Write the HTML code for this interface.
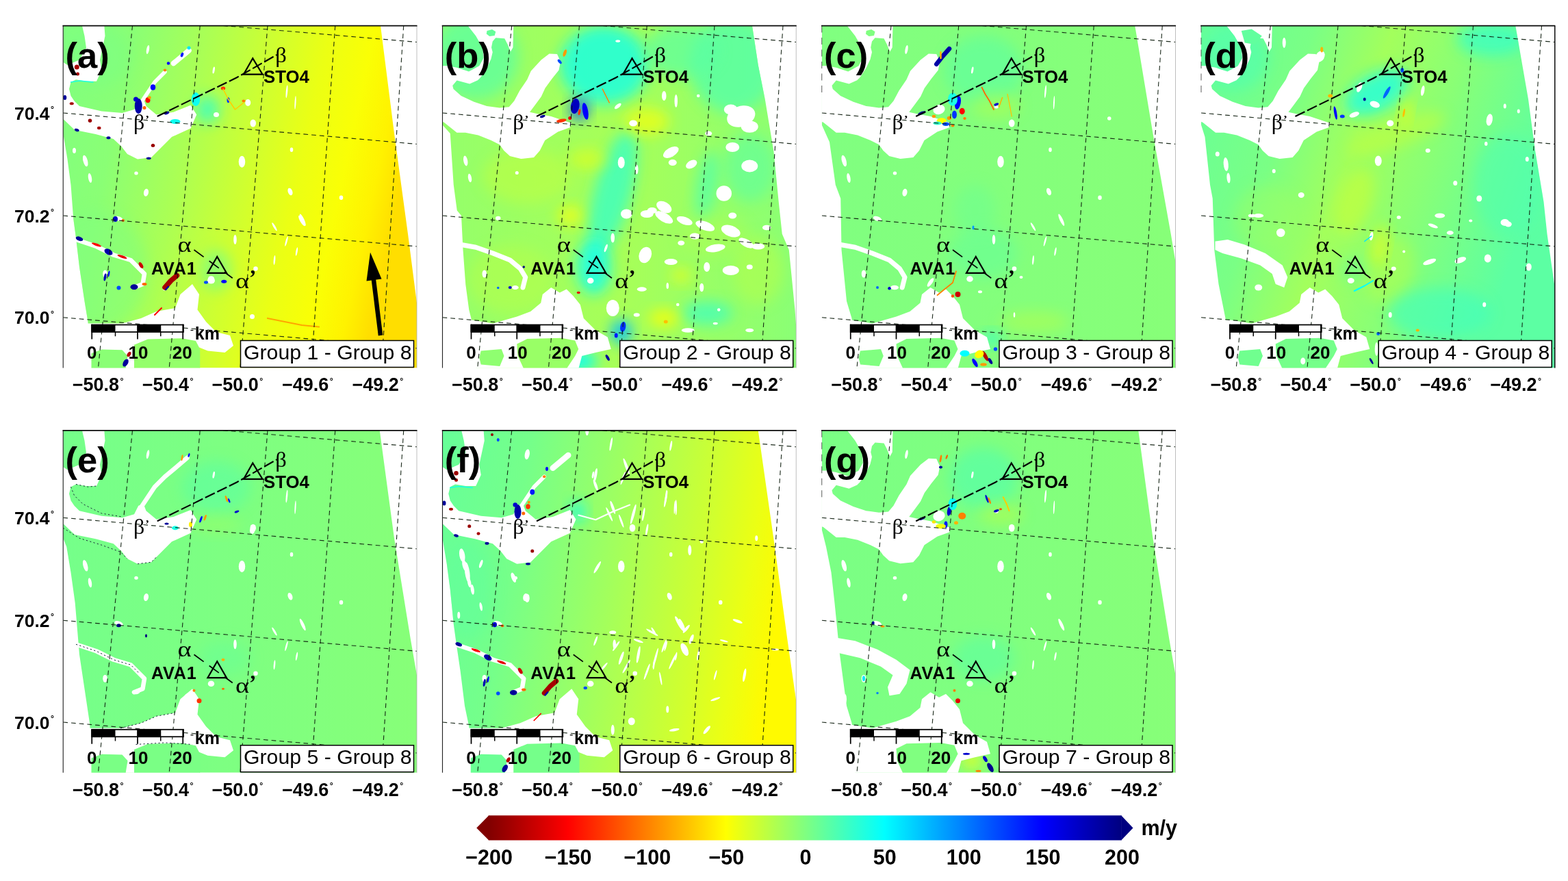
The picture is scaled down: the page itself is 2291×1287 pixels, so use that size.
<!DOCTYPE html>
<html><head><meta charset="utf-8"><title>Figure</title>
<style>
html,body{margin:0;padding:0;background:#fff;}
body{width:2291px;height:1287px;overflow:hidden;}
svg{display:block;}
.sb{font-family:"Liberation Sans",sans-serif;fill:#000;}
.sr{font-family:"Liberation Sans",sans-serif;fill:#000;}
.gr{font-family:"Liberation Serif","DejaVu Serif",serif;fill:#000;}
</style></head><body>
<svg width="2291" height="1287" viewBox="0 0 2291 1287">
<defs><filter id="blur" x="-50%" y="-50%" width="200%" height="200%"><feGaussianBlur stdDeviation="40"/></filter>
<filter id="blur2" x="-50%" y="-50%" width="200%" height="200%"><feGaussianBlur stdDeviation="14"/></filter></defs>
<rect width="2291" height="1287" fill="#fff"/>
<g transform="translate(66,20) scale(0.25)">
<defs>
<clipPath id="boxa"><rect x="105" y="70" width="2067" height="2000"/></clipPath>
<clipPath id="data"><polygon points="105,70 1960,70 2040,700 2120,1287 2172,1690 2172,2070 270,2070 250,1800 230,1680 200,1480 180,1310 165,1200 150,1000 130,850 110,730 105,700"/></clipPath>
<linearGradient id="gra" gradientUnits="userSpaceOnUse" x1="105" y1="0" x2="2200" y2="450">
<stop offset="0" stop-color="#80ff80"/>
<stop offset="0.2" stop-color="#8aff75"/>
<stop offset="0.4" stop-color="#abff54"/>
<stop offset="0.58" stop-color="#cfff30"/>
<stop offset="0.72" stop-color="#ebff14"/>
<stop offset="0.84" stop-color="#faff05"/>
<stop offset="0.93" stop-color="#fff200"/>
<stop offset="1" stop-color="#ffde00"/>
</linearGradient>
</defs>
<g clip-path="url(#boxa)">
<g clip-path="url(#data)">
<rect x="0" y="0" width="2300" height="2100" fill="url(#gra)"/>
<ellipse cx="300" cy="1500" rx="300" ry="350" transform="rotate(0 300 1500)" fill="#80ff80" opacity="0.5" filter="url(#blur)"/>
<ellipse cx="950" cy="560" rx="70" ry="80" transform="rotate(0 950 560)" fill="#26ffd9" opacity="0.7" filter="url(#blur)"/>
<ellipse cx="300" cy="250" rx="200" ry="180" transform="rotate(0 300 250)" fill="#7aff85" opacity="0.5" filter="url(#blur)"/>
<ellipse cx="1000" cy="1500" rx="90" ry="120" transform="rotate(0 1000 1500)" fill="#59ffa6" opacity="0.5" filter="url(#blur)"/>
</g>
<polygon points="215,66 345,66 350,130 335,200 320,270 330,330 300,395 240,395 180,385 150,400 140,440 150,480 170,510 200,540 330,570 450,580 520,560 545,510 575,500 590,540 650,590 750,575 850,535 885,590 850,670 740,720 680,780 620,840 540,850 480,820 445,775 399,732 295,704 172,679 100,610 100,280 130,300 200,270 240,200 230,130" fill="#fff" />
<polygon points="250,1810 450,1810 560,1780 650,1740 760,1720 790,1640 860,1580 900,1640 890,1730 940,1800 1000,1860 1080,1880 1100,1940 1050,1980 950,1970 900,1950 900,2075 100,2075 100,1790" fill="#fff" />
<polyline points="180,1320 300,1360 400,1410 500,1440 550,1490 580,1520 570,1580 520,1600" fill="none" stroke="#fff" stroke-width="26" stroke-linejoin="round" stroke-linecap="round"/>
<polyline points="560,520 640,400 700,340" fill="none" stroke="#fff" stroke-width="22" stroke-linejoin="round" stroke-linecap="round"/>
<polyline points="750,290 840,215" fill="none" stroke="#fff" stroke-width="30" stroke-linejoin="round" stroke-linecap="round"/>
<polygon points="270,1985 330,1962 450,1965 482,2000 470,2075 270,2075" fill="#8aff75" />
<polygon points="520,1935 600,1902 800,1897 880,1912 905,1960 905,2075 520,2075" fill="#94ff6b" />
<ellipse cx="235" cy="860" rx="13" ry="34" transform="rotate(-15 235 860)" fill="#fff"/>
<ellipse cx="262" cy="960" rx="10" ry="28" transform="rotate(-10 262 960)" fill="#fff"/>
<ellipse cx="590" cy="1045" rx="14" ry="22" transform="rotate(10 590 1045)" fill="#fff"/>
<ellipse cx="532" cy="932" rx="11" ry="10" transform="rotate(0 532 932)" fill="#fff"/>
<ellipse cx="1150" cy="865" rx="19" ry="34" transform="rotate(0 1150 865)" fill="#fff"/>
<ellipse cx="1440" cy="795" rx="9" ry="13" transform="rotate(0 1440 795)" fill="#fff"/>
<ellipse cx="1432" cy="1040" rx="13" ry="22" transform="rotate(-20 1432 1040)" fill="#fff"/>
<ellipse cx="1730" cy="1075" rx="11" ry="13" transform="rotate(0 1730 1075)" fill="#fff"/>
<ellipse cx="1505" cy="1205" rx="9" ry="38" transform="rotate(-25 1505 1205)" fill="#fff"/>
<ellipse cx="1412" cy="455" rx="5" ry="38" transform="rotate(5 1412 455)" fill="#fff"/>
<ellipse cx="1462" cy="520" rx="4" ry="40" transform="rotate(3 1462 520)" fill="#fff"/>
<ellipse cx="600" cy="210" rx="8" ry="26" transform="rotate(10 600 210)" fill="#fff"/>
<ellipse cx="430" cy="1198" rx="26" ry="13" transform="rotate(20 430 1198)" fill="#fff"/>
<ellipse cx="1215" cy="640" rx="17" ry="22" transform="rotate(0 1215 640)" fill="#fff"/>
<ellipse cx="1340" cy="1245" rx="6" ry="28" transform="rotate(-30 1340 1245)" fill="#fff"/>
<ellipse cx="985" cy="330" rx="6" ry="20" transform="rotate(10 985 330)" fill="#fff"/>
<ellipse cx="1410" cy="1330" rx="5" ry="30" transform="rotate(15 1410 1330)" fill="#fff"/>
<ellipse cx="1110" cy="1320" rx="9" ry="28" transform="rotate(0 1110 1320)" fill="#fff"/>
<ellipse cx="1470" cy="1390" rx="5" ry="25" transform="rotate(10 1470 1390)" fill="#fff"/>
<ellipse cx="1340" cy="1440" rx="5" ry="28" transform="rotate(5 1340 1440)" fill="#fff"/>
<ellipse cx="1230" cy="1490" rx="13" ry="13" transform="rotate(0 1230 1490)" fill="#fff"/>
<ellipse cx="350" cy="1520" rx="13" ry="22" transform="rotate(0 350 1520)" fill="#fff"/>
<ellipse cx="970" cy="1550" rx="19" ry="17" transform="rotate(0 970 1550)" fill="#fff"/>
<ellipse cx="170" cy="800" rx="10" ry="16" transform="rotate(0 170 800)" fill="#fff"/>
<ellipse cx="1000" cy="590" rx="16" ry="14" transform="rotate(0 1000 590)" fill="#fff"/>
<ellipse cx="1185" cy="520" rx="16" ry="20" transform="rotate(0 1185 520)" fill="#fff"/>
<ellipse cx="700" cy="1605" rx="14" ry="10" transform="rotate(-40 700 1605)" fill="#fff"/>
<ellipse cx="970" cy="1560" rx="22" ry="18" transform="rotate(0 970 1560)" fill="#fff"/>
<ellipse cx="1210" cy="1770" rx="14" ry="14" transform="rotate(0 1210 1770)" fill="#fff"/>
<ellipse cx="1500" cy="1210" rx="10" ry="35" transform="rotate(-30 1500 1210)" fill="#fff"/>
<ellipse cx="545" cy="540" rx="22" ry="45" transform="rotate(0 545 540)" fill="#0000a6"/>
<ellipse cx="530" cy="500" rx="14" ry="14" transform="rotate(0 530 500)" fill="#0000cc"/>
<ellipse cx="600" cy="505" rx="14" ry="16" transform="rotate(0 600 505)" fill="#ff0000"/>
<ellipse cx="580" cy="550" rx="10" ry="10" transform="rotate(0 580 550)" fill="#ff6600"/>
<ellipse cx="630" cy="430" rx="15" ry="17" transform="rotate(0 630 430)" fill="#0000ff"/>
<ellipse cx="610" cy="490" rx="9" ry="9" transform="rotate(0 610 490)" fill="#ff9900"/>
<ellipse cx="1040" cy="436" rx="13" ry="10" transform="rotate(0 1040 436)" fill="#ff3300"/>
<ellipse cx="185" cy="312" rx="14" ry="14" transform="rotate(0 185 312)" fill="#a60000"/>
<ellipse cx="190" cy="352" rx="10" ry="10" transform="rotate(0 190 352)" fill="#a60000"/>
<ellipse cx="115" cy="490" rx="10" ry="14" transform="rotate(0 115 490)" fill="#000099"/>
<ellipse cx="155" cy="525" rx="12" ry="8" transform="rotate(0 155 525)" fill="#a60000"/>
<ellipse cx="262" cy="625" rx="11" ry="11" transform="rotate(0 262 625)" fill="#990000"/>
<ellipse cx="315" cy="668" rx="11" ry="9" transform="rotate(0 315 668)" fill="#a60000"/>
<ellipse cx="370" cy="725" rx="12" ry="8" transform="rotate(0 370 725)" fill="#000099"/>
<ellipse cx="185" cy="680" rx="14" ry="8" transform="rotate(20 185 680)" fill="#000099"/>
<ellipse cx="630" cy="770" rx="11" ry="10" transform="rotate(0 630 770)" fill="#990000"/>
<ellipse cx="605" cy="845" rx="14" ry="7" transform="rotate(0 605 845)" fill="#000099"/>
<ellipse cx="710" cy="580" rx="16" ry="8" transform="rotate(-20 710 580)" fill="#000099"/>
<ellipse cx="410" cy="1200" rx="14" ry="16" transform="rotate(0 410 1200)" fill="#0000cc"/>
<ellipse cx="455" cy="1208" rx="9" ry="8" transform="rotate(0 455 1208)" fill="#ff6600"/>
<ellipse cx="720" cy="290" rx="9" ry="9" transform="rotate(0 720 290)" fill="#0000ff"/>
<ellipse cx="800" cy="240" rx="8" ry="14" transform="rotate(20 800 240)" fill="#001aff"/>
<ellipse cx="840" cy="200" rx="10" ry="10" transform="rotate(0 840 200)" fill="#00e5ff"/>
<ellipse cx="700" cy="330" rx="9" ry="8" transform="rotate(0 700 330)" fill="#ff8000"/>
<ellipse cx="880" cy="500" rx="25" ry="40" transform="rotate(0 880 500)" fill="#0dfff2"/>
<ellipse cx="760" cy="630" rx="30" ry="14" transform="rotate(0 760 630)" fill="#0dfff2"/>
<ellipse cx="1070" cy="505" rx="8" ry="16" transform="rotate(0 1070 505)" fill="#0033ff"/>
<ellipse cx="1160" cy="510" rx="10" ry="8" transform="rotate(0 1160 510)" fill="#ff8000"/>
<ellipse cx="200" cy="1315" rx="22" ry="12" transform="rotate(20 200 1315)" fill="#000099"/>
<ellipse cx="370" cy="1392" rx="26" ry="16" transform="rotate(30 370 1392)" fill="#0000a6"/>
<ellipse cx="520" cy="1597" rx="22" ry="16" transform="rotate(0 520 1597)" fill="#000099"/>
<ellipse cx="430" cy="1602" rx="12" ry="12" transform="rotate(0 430 1602)" fill="#004cff"/>
<ellipse cx="1045" cy="1565" rx="16" ry="10" transform="rotate(0 1045 1565)" fill="#0000ff"/>
<ellipse cx="940" cy="1570" rx="12" ry="9" transform="rotate(0 940 1570)" fill="#004cff"/>
<ellipse cx="470" cy="2040" rx="14" ry="24" transform="rotate(30 470 2040)" fill="#000099"/>
<ellipse cx="490" cy="1990" rx="10" ry="16" transform="rotate(30 490 1990)" fill="#b30000"/>
<ellipse cx="300" cy="1350" rx="30" ry="7" transform="rotate(20 300 1350)" fill="#ff0000"/>
<ellipse cx="450" cy="1420" rx="30" ry="7" transform="rotate(20 450 1420)" fill="#e50000"/>
<ellipse cx="560" cy="1470" rx="10" ry="20" transform="rotate(-30 560 1470)" fill="#cc0000"/>
<ellipse cx="580" cy="1580" rx="14" ry="8" transform="rotate(0 580 1580)" fill="#ff6600"/>
<ellipse cx="350" cy="1540" rx="7" ry="22" transform="rotate(10 350 1540)" fill="#0000b3"/>
<ellipse cx="372" cy="1520" rx="5" ry="18" transform="rotate(10 372 1520)" fill="#0000ff"/>
<polyline points="700,1600 735,1560 770,1530" fill="none" stroke="#a60000" stroke-width="30" stroke-linejoin="round" stroke-linecap="round"/>
<polyline points="705,1612 720,1595" fill="none" stroke="#0000a6" stroke-width="10" stroke-linejoin="round" stroke-linecap="round"/>
<polyline points="1300,1780 1400,1800 1500,1820 1600,1830" fill="none" stroke="#ffa600" stroke-width="9" stroke-linejoin="round" stroke-linecap="round"/>
<polyline points="640,1760 680,1720" fill="none" stroke="#ff0000" stroke-width="8" stroke-linejoin="round" stroke-linecap="round"/>
<polyline points="150,400 200,392 280,400" fill="none" stroke="#1affe5" stroke-width="6" stroke-linejoin="round" stroke-linecap="round"/>
<polyline points="1040,440 1070,500 1110,560 1160,520" fill="none" stroke="#ffcc00" stroke-width="6" stroke-linejoin="round" stroke-linecap="round"/>
<g stroke="#0b1a0b" stroke-width="4.5" stroke-dasharray="27 20" fill="none" opacity="0.92">
<line x1="510" y1="70" x2="310" y2="2070"/>
<line x1="905" y1="70" x2="725" y2="2070"/>
<line x1="1300" y1="70" x2="1140" y2="2070"/>
<line x1="1695" y1="70" x2="1555" y2="2070"/>
<line x1="2095" y1="70" x2="1965" y2="2070"/>
<line x1="1040" y1="70" x2="2172" y2="166"/>
<line x1="105" y1="580" x2="2172" y2="762"/>
<line x1="105" y1="1180" x2="2172" y2="1360"/>
<line x1="105" y1="1775" x2="2172" y2="1955"/>
</g>
</g>
<line x1="2172" y1="70" x2="2172" y2="2070" stroke="#a8a8a8" stroke-width="3"/>
<line x1="105" y1="70" x2="105" y2="2070" stroke="#222" stroke-width="4.5"/>
<line x1="102" y1="70" x2="2174" y2="70" stroke="#0a0a0a" stroke-width="7"/>
<text x="118" y="316" font-size="210" font-weight="bold" class="sb">(a)</text>
<polyline points="655,600 1120,373 1354,240" fill="none" stroke="#000" stroke-width="8.5" stroke-dasharray="62 16"/>
<polygon points="1213,261 1160,354 1270,354" fill="none" stroke="#000" stroke-width="9" stroke-linejoin="miter"/>
<text x="1276" y="405" font-size="103" font-weight="bold" class="sb">STO4</text>
<text x="1345" y="283" font-size="130" class="gr">β</text>
<text x="516" y="675" font-size="128" class="gr">β</text>
<text x="585" y="640" font-size="70" font-weight="bold" class="gr">’</text>
<line x1="870" y1="1380" x2="1095" y2="1545" stroke="#000" stroke-width="7" stroke-dasharray="70 40"/>
<polygon points="1005,1420 950,1515 1060,1515" fill="none" stroke="#000" stroke-width="9"/>
<text x="620" y="1522" font-size="101" font-weight="bold" class="sb" letter-spacing="3">AVA1</text>
<text transform="translate(774,1392) scale(1.3,1.05)" font-size="118" class="gr">α</text>
<text transform="translate(1112,1602) scale(1.3,1.05)" font-size="118" class="gr">α</text>
<text x="1192" y="1585" font-size="125" font-weight="bold" class="gr">’</text>
<rect x="273" y="1818" width="535" height="42" fill="#fff" stroke="#000" stroke-width="7"/>
<rect x="270" y="1818" width="140" height="42" fill="#000"/>
<rect x="540" y="1818" width="137" height="42" fill="#000"/>
<line x1="273" y1="1815" x2="273" y2="1902" stroke="#000" stroke-width="7"/>
<line x1="540" y1="1815" x2="540" y2="1902" stroke="#000" stroke-width="7"/>
<line x1="805" y1="1815" x2="805" y2="1902" stroke="#000" stroke-width="7"/>
<line x1="410" y1="1860" x2="410" y2="1885" stroke="#000" stroke-width="6"/>
<line x1="675" y1="1860" x2="675" y2="1885" stroke="#000" stroke-width="6"/>
<text x="273" y="2017" font-size="104" font-weight="bold" text-anchor="middle" class="sb">0</text>
<text x="544" y="2017" font-size="104" font-weight="bold" text-anchor="middle" class="sb">10</text>
<text x="801" y="2017" font-size="104" font-weight="bold" text-anchor="middle" class="sb">20</text>
<text x="875" y="1902" font-size="100" font-weight="bold" class="sb">km</text>
<line x1="850" y1="1850" x2="866" y2="1850" stroke="#000" stroke-width="5"/>
<rect x="1142" y="1910" width="1012" height="156" fill="#fff" stroke="#000" stroke-width="6"/>
<text x="1160" y="2020" font-size="121" class="sr">Group 1 - Group 8</text>
<text x="159" y="2205" font-size="108" font-weight="bold" class="sb">−50.8<tspan font-size="50" dy="-43" dx="6">°</tspan></text>
<text x="567" y="2205" font-size="108" font-weight="bold" class="sb">−50.4<tspan font-size="50" dy="-43" dx="6">°</tspan></text>
<text x="974" y="2205" font-size="108" font-weight="bold" class="sb">−50.0<tspan font-size="50" dy="-43" dx="6">°</tspan></text>
<text x="1384" y="2205" font-size="108" font-weight="bold" class="sb">−49.6<tspan font-size="50" dy="-43" dx="6">°</tspan></text>
<text x="1794" y="2205" font-size="108" font-weight="bold" class="sb">−49.2<tspan font-size="50" dy="-43" dx="6">°</tspan></text>
<text x="-180" y="618" font-size="106" font-weight="bold" class="sb">70.4<tspan font-size="50" dy="-43" dx="6">°</tspan></text>
<text x="-180" y="1218" font-size="106" font-weight="bold" class="sb">70.2<tspan font-size="50" dy="-43" dx="6">°</tspan></text>
<text x="-180" y="1813" font-size="106" font-weight="bold" class="sb">70.0<tspan font-size="50" dy="-43" dx="6">°</tspan></text>
<line x1="1960" y1="1880" x2="1918" y2="1540" stroke="#000" stroke-width="26"/>
<polygon points="1900,1395 1878,1562 1966,1550" fill="#000"/>
</g>
<g transform="translate(620.25,20) scale(0.25)">
<defs>
<clipPath id="boxb"><rect x="105" y="70" width="2067" height="2000"/></clipPath>
<clipPath id="datb"><polygon points="105,70 1915,70 1950,300 1990,500 2040,800 2070,1100 2090,1287 2130,1380 2150,1580 2165,1730 2172,1830 2172,2070 300,2070 280,1810 260,1730 240,1580 225,1380 215,1180 190,1150 170,1000 160,850 150,700 105,650"/></clipPath>
<linearGradient id="grb" gradientUnits="userSpaceOnUse" x1="105" y1="0" x2="2172" y2="0">
<stop offset="0" stop-color="#94ff6b"/>
<stop offset="0.5" stop-color="#a8ff57"/>
<stop offset="1" stop-color="#8aff75"/>
</linearGradient>
</defs>
<g clip-path="url(#boxb)">
<g clip-path="url(#datb)">
<rect x="0" y="0" width="2300" height="2100" fill="url(#grb)"/>
<ellipse cx="1050" cy="300" rx="260" ry="230" transform="rotate(0 1050 300)" fill="#1fffe0" opacity="0.85" filter="url(#blur)"/>
<ellipse cx="300" cy="250" rx="250" ry="250" transform="rotate(0 300 250)" fill="#61ff9e" opacity="0.8" filter="url(#blur)"/>
<ellipse cx="1100" cy="1050" rx="110" ry="380" transform="rotate(15 1100 1050)" fill="#33ffcc" opacity="0.75" filter="url(#blur)"/>
<ellipse cx="990" cy="1480" rx="100" ry="160" transform="rotate(0 990 1480)" fill="#14ffeb" opacity="0.85" filter="url(#blur)"/>
<ellipse cx="1800" cy="300" rx="250" ry="280" transform="rotate(0 1800 300)" fill="#57ffa8" opacity="0.8" filter="url(#blur)"/>
<ellipse cx="1500" cy="220" rx="220" ry="150" transform="rotate(0 1500 220)" fill="#5cffa3" opacity="0.7" filter="url(#blur)"/>
<ellipse cx="1150" cy="1860" rx="60" ry="70" transform="rotate(0 1150 1860)" fill="#00bfff" opacity="0.9" filter="url(#blur)"/>
<ellipse cx="900" cy="2030" rx="110" ry="60" transform="rotate(0 900 2030)" fill="#00ffff" opacity="0.85" filter="url(#blur)"/>
<ellipse cx="1650" cy="1750" rx="150" ry="70" transform="rotate(0 1650 1750)" fill="#38ffc7" opacity="0.7" filter="url(#blur)"/>
<ellipse cx="1300" cy="630" rx="130" ry="80" transform="rotate(0 1300 630)" fill="#ebff14" opacity="0.8" filter="url(#blur)"/>
<ellipse cx="950" cy="850" rx="110" ry="60" transform="rotate(0 950 850)" fill="#dbff24" opacity="0.7" filter="url(#blur)"/>
<ellipse cx="850" cy="1180" rx="70" ry="55" transform="rotate(0 850 1180)" fill="#f5ff0a" opacity="0.8" filter="url(#blur)"/>
<ellipse cx="600" cy="950" rx="260" ry="160" transform="rotate(0 600 950)" fill="#bdff42" opacity="0.6" filter="url(#blur)"/>
<ellipse cx="1400" cy="1780" rx="90" ry="50" transform="rotate(0 1400 1780)" fill="#ffff00" opacity="0.8" filter="url(#blur)"/>
<ellipse cx="1500" cy="1530" rx="60" ry="45" transform="rotate(0 1500 1530)" fill="#ebff14" opacity="0.7" filter="url(#blur)"/>
<ellipse cx="1950" cy="1500" rx="150" ry="200" transform="rotate(0 1950 1500)" fill="#b3ff4c" opacity="0.6" filter="url(#blur)"/>
<ellipse cx="1700" cy="1300" rx="200" ry="120" transform="rotate(0 1700 1300)" fill="#adff52" opacity="0.5" filter="url(#blur)"/>
<ellipse cx="500" cy="1550" rx="250" ry="200" transform="rotate(0 500 1550)" fill="#b8ff47" opacity="0.5" filter="url(#blur)"/>
<ellipse cx="1900" cy="900" rx="150" ry="200" transform="rotate(0 1900 900)" fill="#5cffa3" opacity="0.6" filter="url(#blur)"/>
<ellipse cx="1650" cy="1000" rx="60" ry="200" transform="rotate(10 1650 1000)" fill="#40ffbf" opacity="0.6" filter="url(#blur)"/>
<ellipse cx="905" cy="560" rx="50" ry="60" transform="rotate(0 905 560)" fill="#004cff" opacity="0.9" filter="url(#blur)"/>
</g>
<polygon points="250,66 520,66 517,197 503,222 486,180 468,145 416,141 398,162 391,197 398,225 388,267 363,319 328,372 311,389 264,410 189,390 164,420 169,440 214,480 289,515 364,540 439,550 494,545 524,510 556,450 600,385 622,335 682,270 729,234 775,236 795,280 785,330 745,380 705,435 682,485 645,535 615,575 660,585 740,600 800,620 860,640 850,665 780,690 704,740 674,800 639,840 564,848 499,832 464,800 439,765 389,740 314,710 239,695 189,695 114,635 100,630 100,305 136,305 189,315 259,338 320,305 345,260 340,200 300,130" fill="#fff" />
<polygon points="280,1790 400,1810 540,1770 620,1740 680,1690 690,1640 740,1600 790,1630 830,1610 870,1650 910,1700 930,1780 1000,1850 1070,1890 1090,1960 1000,1980 920,2000 900,2075 100,2075 100,1790" fill="#fff" />
<polyline points="215,1350 300,1365 400,1400 500,1440 560,1490 590,1540 575,1600" fill="none" stroke="#fff" stroke-width="28" stroke-linejoin="round" stroke-linecap="round"/>
<polygon points="330,1970 450,1960 465,2000 440,2060 330,2050 320,2010" fill="#8fff70" />
<polygon points="540,1930 600,1900 800,1895 880,1910 900,1960 880,2000 830,2075 580,2075 545,2000" fill="#99ff66" />
<polygon points="365,100 395,92 416,105 410,128 380,132 362,118" fill="#66ff99" />
<ellipse cx="240" cy="860" rx="12" ry="30" transform="rotate(-10 240 860)" fill="#fff"/>
<ellipse cx="265" cy="960" rx="10" ry="25" transform="rotate(-10 265 960)" fill="#fff"/>
<ellipse cx="540" cy="930" rx="10" ry="10" transform="rotate(0 540 930)" fill="#fff"/>
<ellipse cx="430" cy="1195" rx="15" ry="12" transform="rotate(0 430 1195)" fill="#fff"/>
<ellipse cx="1850" cy="600" rx="85" ry="60" transform="rotate(-20 1850 600)" fill="#fff"/>
<ellipse cx="1790" cy="560" rx="40" ry="30" transform="rotate(0 1790 560)" fill="#fff"/>
<ellipse cx="1900" cy="660" rx="50" ry="35" transform="rotate(0 1900 660)" fill="#fff"/>
<ellipse cx="1800" cy="780" rx="40" ry="28" transform="rotate(0 1800 780)" fill="#fff"/>
<ellipse cx="1440" cy="810" rx="50" ry="26" transform="rotate(-30 1440 810)" fill="#fff"/>
<ellipse cx="1150" cy="870" rx="20" ry="34" transform="rotate(0 1150 870)" fill="#fff"/>
<ellipse cx="1560" cy="880" rx="35" ry="22" transform="rotate(-30 1560 880)" fill="#fff"/>
<ellipse cx="1900" cy="890" rx="48" ry="36" transform="rotate(0 1900 890)" fill="#fff"/>
<ellipse cx="1450" cy="870" rx="24" ry="18" transform="rotate(0 1450 870)" fill="#fff"/>
<ellipse cx="1750" cy="1050" rx="45" ry="45" transform="rotate(0 1750 1050)" fill="#fff"/>
<ellipse cx="1400" cy="1130" rx="48" ry="30" transform="rotate(30 1400 1130)" fill="#fff"/>
<ellipse cx="1240" cy="910" rx="9" ry="28" transform="rotate(0 1240 910)" fill="#fff"/>
<ellipse cx="1300" cy="1170" rx="38" ry="22" transform="rotate(0 1300 1170)" fill="#fff"/>
<ellipse cx="1800" cy="1180" rx="24" ry="18" transform="rotate(0 1800 1180)" fill="#fff"/>
<ellipse cx="1220" cy="640" rx="24" ry="18" transform="rotate(0 1220 640)" fill="#fff"/>
<ellipse cx="1400" cy="480" rx="13" ry="28" transform="rotate(0 1400 480)" fill="#fff"/>
<ellipse cx="1470" cy="510" rx="9" ry="38" transform="rotate(0 1470 510)" fill="#fff"/>
<ellipse cx="1130" cy="540" rx="24" ry="10" transform="rotate(-40 1130 540)" fill="#fff"/>
<ellipse cx="1600" cy="480" rx="9" ry="9" transform="rotate(0 1600 480)" fill="#fff"/>
<ellipse cx="1130" cy="160" rx="14" ry="7" transform="rotate(0 1130 160)" fill="#fff"/>
<ellipse cx="1660" cy="700" rx="20" ry="14" transform="rotate(0 1660 700)" fill="#fff"/>
<ellipse cx="1180" cy="1170" rx="33" ry="28" transform="rotate(0 1180 1170)" fill="#fff"/>
<ellipse cx="1330" cy="1150" rx="28" ry="18" transform="rotate(0 1330 1150)" fill="#fff"/>
<ellipse cx="1400" cy="1190" rx="58" ry="26" transform="rotate(30 1400 1190)" fill="#fff"/>
<ellipse cx="1520" cy="1210" rx="48" ry="22" transform="rotate(20 1520 1210)" fill="#fff"/>
<ellipse cx="1640" cy="1240" rx="58" ry="26" transform="rotate(20 1640 1240)" fill="#fff"/>
<ellipse cx="1790" cy="1270" rx="58" ry="32" transform="rotate(20 1790 1270)" fill="#fff"/>
<ellipse cx="1880" cy="1340" rx="48" ry="22" transform="rotate(30 1880 1340)" fill="#fff"/>
<ellipse cx="1700" cy="1370" rx="58" ry="22" transform="rotate(-10 1700 1370)" fill="#fff"/>
<ellipse cx="1950" cy="1360" rx="38" ry="18" transform="rotate(0 1950 1360)" fill="#fff"/>
<ellipse cx="1290" cy="1410" rx="36" ry="48" transform="rotate(20 1290 1410)" fill="#fff"/>
<ellipse cx="1440" cy="1450" rx="38" ry="18" transform="rotate(0 1440 1450)" fill="#fff"/>
<ellipse cx="1790" cy="1500" rx="48" ry="28" transform="rotate(0 1790 1500)" fill="#fff"/>
<ellipse cx="1900" cy="1480" rx="18" ry="14" transform="rotate(0 1900 1480)" fill="#fff"/>
<ellipse cx="1650" cy="1480" rx="18" ry="28" transform="rotate(0 1650 1480)" fill="#fff"/>
<ellipse cx="1100" cy="1310" rx="11" ry="28" transform="rotate(0 1100 1310)" fill="#fff"/>
<ellipse cx="1060" cy="1370" rx="7" ry="24" transform="rotate(20 1060 1370)" fill="#fff"/>
<ellipse cx="1270" cy="1610" rx="28" ry="13" transform="rotate(0 1270 1610)" fill="#fff"/>
<ellipse cx="1420" cy="1590" rx="7" ry="18" transform="rotate(0 1420 1590)" fill="#fff"/>
<ellipse cx="1100" cy="1720" rx="38" ry="48" transform="rotate(0 1100 1720)" fill="#fff"/>
<ellipse cx="1240" cy="1760" rx="18" ry="11" transform="rotate(0 1240 1760)" fill="#fff"/>
<ellipse cx="1540" cy="1850" rx="38" ry="13" transform="rotate(0 1540 1850)" fill="#fff"/>
<ellipse cx="1480" cy="1700" rx="9" ry="9" transform="rotate(0 1480 1700)" fill="#fff"/>
<ellipse cx="1720" cy="1730" rx="9" ry="9" transform="rotate(0 1720 1730)" fill="#fff"/>
<ellipse cx="1900" cy="1850" rx="24" ry="11" transform="rotate(0 1900 1850)" fill="#fff"/>
<ellipse cx="1700" cy="1810" rx="14" ry="7" transform="rotate(0 1700 1810)" fill="#fff"/>
<ellipse cx="970" cy="1560" rx="19" ry="17" transform="rotate(0 970 1560)" fill="#fff"/>
<ellipse cx="350" cy="1520" rx="13" ry="22" transform="rotate(0 350 1520)" fill="#fff"/>
<ellipse cx="530" cy="1600" rx="20" ry="12" transform="rotate(0 530 1600)" fill="#fff"/>
<ellipse cx="1580" cy="1300" rx="30" ry="18" transform="rotate(0 1580 1300)" fill="#fff"/>
<ellipse cx="1500" cy="1340" rx="20" ry="14" transform="rotate(0 1500 1340)" fill="#fff"/>
<ellipse cx="2000" cy="1250" rx="25" ry="15" transform="rotate(0 2000 1250)" fill="#fff"/>
<ellipse cx="1620" cy="1600" rx="12" ry="25" transform="rotate(0 1620 1600)" fill="#fff"/>
<ellipse cx="880" cy="540" rx="25" ry="45" transform="rotate(10 880 540)" fill="#0000bf"/>
<ellipse cx="940" cy="570" rx="16" ry="50" transform="rotate(-10 940 570)" fill="#0000ff"/>
<ellipse cx="800" cy="625" rx="30" ry="10" transform="rotate(-10 800 625)" fill="#ff3300"/>
<ellipse cx="850" cy="610" rx="10" ry="10" transform="rotate(0 850 610)" fill="#e50000"/>
<ellipse cx="905" cy="575" rx="7" ry="18" transform="rotate(10 905 575)" fill="#ff3300"/>
<ellipse cx="690" cy="600" rx="16" ry="7" transform="rotate(-20 690 600)" fill="#000099"/>
<ellipse cx="820" cy="230" rx="9" ry="22" transform="rotate(20 820 230)" fill="#ff9900"/>
<ellipse cx="790" cy="280" rx="8" ry="16" transform="rotate(-40 790 280)" fill="#004cff"/>
<ellipse cx="1160" cy="1830" rx="16" ry="30" transform="rotate(10 1160 1830)" fill="#0033ff"/>
<ellipse cx="1120" cy="1880" rx="10" ry="14" transform="rotate(0 1120 1880)" fill="#001aff"/>
<ellipse cx="500" cy="1600" rx="10" ry="8" transform="rotate(0 500 1600)" fill="#0000cc"/>
<ellipse cx="430" cy="1602" rx="7" ry="7" transform="rotate(0 430 1602)" fill="#0066ff"/>
<ellipse cx="1070" cy="2010" rx="8" ry="20" transform="rotate(-30 1070 2010)" fill="#000099"/>
<ellipse cx="1410" cy="1800" rx="12" ry="10" transform="rotate(0 1410 1800)" fill="#ffbf00"/>
<ellipse cx="900" cy="1630" rx="10" ry="7" transform="rotate(0 900 1630)" fill="#e50000"/>
<ellipse cx="580" cy="1480" rx="7" ry="7" transform="rotate(0 580 1480)" fill="#000080"/>
<polyline points="1040,440 1060,480 1080,520" fill="none" stroke="#ff8000" stroke-width="6" stroke-linejoin="round" stroke-linecap="round"/>
<g stroke="#0b1a0b" stroke-width="4.5" stroke-dasharray="27 20" fill="none" opacity="0.92">
<line x1="510" y1="70" x2="310" y2="2070"/>
<line x1="905" y1="70" x2="725" y2="2070"/>
<line x1="1300" y1="70" x2="1140" y2="2070"/>
<line x1="1695" y1="70" x2="1555" y2="2070"/>
<line x1="2095" y1="70" x2="1965" y2="2070"/>
<line x1="1040" y1="70" x2="2172" y2="166"/>
<line x1="105" y1="580" x2="2172" y2="762"/>
<line x1="105" y1="1180" x2="2172" y2="1360"/>
<line x1="105" y1="1775" x2="2172" y2="1955"/>
</g>
</g>
<line x1="2172" y1="70" x2="2172" y2="2070" stroke="#a8a8a8" stroke-width="3"/>
<line x1="105" y1="70" x2="105" y2="2070" stroke="#222" stroke-width="4.5"/>
<line x1="102" y1="70" x2="2174" y2="70" stroke="#0a0a0a" stroke-width="7"/>
<text x="118" y="316" font-size="210" font-weight="bold" class="sb">(b)</text>
<polyline points="655,600 1120,373 1354,240" fill="none" stroke="#000" stroke-width="8.5" stroke-dasharray="62 16"/>
<polygon points="1213,261 1160,354 1270,354" fill="none" stroke="#000" stroke-width="9" stroke-linejoin="miter"/>
<text x="1276" y="405" font-size="103" font-weight="bold" class="sb">STO4</text>
<text x="1345" y="283" font-size="130" class="gr">β</text>
<text x="516" y="675" font-size="128" class="gr">β</text>
<text x="585" y="640" font-size="70" font-weight="bold" class="gr">’</text>
<line x1="870" y1="1380" x2="1095" y2="1545" stroke="#000" stroke-width="7" stroke-dasharray="70 40"/>
<polygon points="1005,1420 950,1515 1060,1515" fill="none" stroke="#000" stroke-width="9"/>
<text x="620" y="1522" font-size="101" font-weight="bold" class="sb" letter-spacing="3">AVA1</text>
<text transform="translate(774,1392) scale(1.3,1.05)" font-size="118" class="gr">α</text>
<text transform="translate(1112,1602) scale(1.3,1.05)" font-size="118" class="gr">α</text>
<text x="1192" y="1585" font-size="125" font-weight="bold" class="gr">’</text>
<rect x="273" y="1818" width="535" height="42" fill="#fff" stroke="#000" stroke-width="7"/>
<rect x="270" y="1818" width="140" height="42" fill="#000"/>
<rect x="540" y="1818" width="137" height="42" fill="#000"/>
<line x1="273" y1="1815" x2="273" y2="1902" stroke="#000" stroke-width="7"/>
<line x1="540" y1="1815" x2="540" y2="1902" stroke="#000" stroke-width="7"/>
<line x1="805" y1="1815" x2="805" y2="1902" stroke="#000" stroke-width="7"/>
<line x1="410" y1="1860" x2="410" y2="1885" stroke="#000" stroke-width="6"/>
<line x1="675" y1="1860" x2="675" y2="1885" stroke="#000" stroke-width="6"/>
<text x="273" y="2017" font-size="104" font-weight="bold" text-anchor="middle" class="sb">0</text>
<text x="544" y="2017" font-size="104" font-weight="bold" text-anchor="middle" class="sb">10</text>
<text x="801" y="2017" font-size="104" font-weight="bold" text-anchor="middle" class="sb">20</text>
<text x="875" y="1902" font-size="100" font-weight="bold" class="sb">km</text>
<line x1="850" y1="1850" x2="866" y2="1850" stroke="#000" stroke-width="5"/>
<rect x="1142" y="1910" width="1012" height="156" fill="#fff" stroke="#000" stroke-width="6"/>
<text x="1160" y="2020" font-size="121" class="sr">Group 2 - Group 8</text>
<text x="159" y="2205" font-size="108" font-weight="bold" class="sb">−50.8<tspan font-size="50" dy="-43" dx="6">°</tspan></text>
<text x="567" y="2205" font-size="108" font-weight="bold" class="sb">−50.4<tspan font-size="50" dy="-43" dx="6">°</tspan></text>
<text x="974" y="2205" font-size="108" font-weight="bold" class="sb">−50.0<tspan font-size="50" dy="-43" dx="6">°</tspan></text>
<text x="1384" y="2205" font-size="108" font-weight="bold" class="sb">−49.6<tspan font-size="50" dy="-43" dx="6">°</tspan></text>
<text x="1794" y="2205" font-size="108" font-weight="bold" class="sb">−49.2<tspan font-size="50" dy="-43" dx="6">°</tspan></text>
</g>
<g transform="translate(1174.5,20) scale(0.25)">
<defs>
<clipPath id="boxc"><rect x="105" y="70" width="2067" height="2000"/></clipPath>
<clipPath id="datc"><polygon points="105,70 1935,70 2040,700 2145,1287 2172,1450 2172,2070 300,2070 280,1780 250,1680 220,1380 215,1080 185,1000 150,750 105,650"/></clipPath>
<linearGradient id="grc" gradientUnits="userSpaceOnUse" x1="105" y1="0" x2="2172" y2="0">
<stop offset="0" stop-color="#80ff80"/>
<stop offset="1" stop-color="#87ff78"/>
</linearGradient>
</defs>
<g clip-path="url(#boxc)">
<g clip-path="url(#datc)">
<rect x="0" y="0" width="2300" height="2100" fill="url(#grc)"/>
<ellipse cx="1050" cy="330" rx="230" ry="200" transform="rotate(0 1050 330)" fill="#61ff9e" opacity="0.7" filter="url(#blur)"/>
<ellipse cx="1120" cy="540" rx="140" ry="70" transform="rotate(0 1120 540)" fill="#b8ff47" opacity="0.5" filter="url(#blur)"/>
<ellipse cx="1050" cy="1400" rx="200" ry="150" transform="rotate(0 1050 1400)" fill="#66ff99" opacity="0.6" filter="url(#blur)"/>
<ellipse cx="1350" cy="1800" rx="200" ry="60" transform="rotate(0 1350 1800)" fill="#b8ff47" opacity="0.5" filter="url(#blur)"/>
<ellipse cx="1000" cy="1150" rx="120" ry="150" transform="rotate(0 1000 1150)" fill="#6bff94" opacity="0.5" filter="url(#blur)"/>
<ellipse cx="1100" cy="1900" rx="50" ry="40" transform="rotate(0 1100 1900)" fill="#1affe5" opacity="0.7" filter="url(#blur)"/>
</g>
<polygon points="250,66 520,66 517,197 503,222 486,180 468,145 416,141 398,162 391,197 398,225 388,267 363,319 328,372 311,389 264,410 189,390 164,420 169,440 214,480 289,515 364,540 439,550 494,545 524,510 556,450 600,385 622,335 682,270 729,234 775,236 795,280 785,330 745,380 705,435 682,485 645,535 615,575 660,585 740,600 800,620 860,640 850,665 780,690 704,740 674,800 639,840 564,848 499,832 464,800 439,765 389,740 314,710 239,695 189,695 114,635 100,630 100,305 136,305 189,315 259,338 320,305 345,260 340,200 300,130" fill="#fff" />
<polygon points="280,1790 400,1810 540,1770 620,1740 680,1690 690,1640 740,1600 790,1630 830,1610 870,1650 910,1700 930,1780 1000,1850 1070,1890 1090,1960 1000,1980 920,2000 900,2075 100,2075 100,1790" fill="#fff" />
<polyline points="215,1350 300,1365 400,1400 500,1440 560,1490 590,1540 575,1600" fill="none" stroke="#fff" stroke-width="28" stroke-linejoin="round" stroke-linecap="round"/>
<polygon points="330,1970 450,1960 465,2000 440,2060 330,2050 320,2010" fill="#80ff80" />
<polygon points="540,1930 600,1900 800,1895 880,1910 900,1960 880,2000 830,2075 580,2075 545,2000" fill="#80ff80" />
<polygon points="365,100 395,92 416,105 410,128 380,132 362,118" fill="#80ff80" />
<ellipse cx="235" cy="860" rx="13" ry="34" transform="rotate(-15 235 860)" fill="#fff"/>
<ellipse cx="262" cy="960" rx="10" ry="28" transform="rotate(-10 262 960)" fill="#fff"/>
<ellipse cx="590" cy="1045" rx="14" ry="22" transform="rotate(10 590 1045)" fill="#fff"/>
<ellipse cx="532" cy="932" rx="11" ry="10" transform="rotate(0 532 932)" fill="#fff"/>
<ellipse cx="1150" cy="865" rx="19" ry="34" transform="rotate(0 1150 865)" fill="#fff"/>
<ellipse cx="1440" cy="795" rx="9" ry="13" transform="rotate(0 1440 795)" fill="#fff"/>
<ellipse cx="1432" cy="1040" rx="13" ry="22" transform="rotate(-20 1432 1040)" fill="#fff"/>
<ellipse cx="1730" cy="1075" rx="11" ry="13" transform="rotate(0 1730 1075)" fill="#fff"/>
<ellipse cx="1505" cy="1205" rx="9" ry="38" transform="rotate(-25 1505 1205)" fill="#fff"/>
<ellipse cx="1412" cy="455" rx="5" ry="38" transform="rotate(5 1412 455)" fill="#fff"/>
<ellipse cx="1462" cy="520" rx="4" ry="40" transform="rotate(3 1462 520)" fill="#fff"/>
<ellipse cx="600" cy="210" rx="8" ry="26" transform="rotate(10 600 210)" fill="#fff"/>
<ellipse cx="430" cy="1198" rx="26" ry="13" transform="rotate(20 430 1198)" fill="#fff"/>
<ellipse cx="1215" cy="640" rx="17" ry="22" transform="rotate(0 1215 640)" fill="#fff"/>
<ellipse cx="1340" cy="1245" rx="6" ry="28" transform="rotate(-30 1340 1245)" fill="#fff"/>
<ellipse cx="985" cy="330" rx="6" ry="20" transform="rotate(10 985 330)" fill="#fff"/>
<ellipse cx="1410" cy="1330" rx="5" ry="30" transform="rotate(15 1410 1330)" fill="#fff"/>
<ellipse cx="1110" cy="1320" rx="9" ry="28" transform="rotate(0 1110 1320)" fill="#fff"/>
<ellipse cx="1470" cy="1390" rx="5" ry="25" transform="rotate(10 1470 1390)" fill="#fff"/>
<ellipse cx="1340" cy="1440" rx="5" ry="28" transform="rotate(5 1340 1440)" fill="#fff"/>
<ellipse cx="1230" cy="1490" rx="13" ry="13" transform="rotate(0 1230 1490)" fill="#fff"/>
<ellipse cx="350" cy="1520" rx="13" ry="22" transform="rotate(0 350 1520)" fill="#fff"/>
<ellipse cx="970" cy="1550" rx="19" ry="17" transform="rotate(0 970 1550)" fill="#fff"/>
<ellipse cx="1785" cy="612" rx="11" ry="11" transform="rotate(0 1785 612)" fill="#fff"/>
<ellipse cx="790" cy="560" rx="35" ry="28" transform="rotate(-20 790 560)" fill="#fff"/>
<ellipse cx="1125" cy="545" rx="12" ry="9" transform="rotate(0 1125 545)" fill="#fff"/>
<ellipse cx="530" cy="1600" rx="24" ry="13" transform="rotate(0 530 1600)" fill="#fff"/>
<ellipse cx="740" cy="1570" rx="11" ry="30" transform="rotate(35 740 1570)" fill="#fff"/>
<ellipse cx="1270" cy="1540" rx="10" ry="8" transform="rotate(0 1270 1540)" fill="#fff"/>
<ellipse cx="1030" cy="1625" rx="12" ry="8" transform="rotate(0 1030 1625)" fill="#fff"/>
<ellipse cx="1230" cy="1760" rx="5" ry="15" transform="rotate(0 1230 1760)" fill="#fff"/>
<ellipse cx="900" cy="520" rx="17" ry="40" transform="rotate(10 900 520)" fill="#0000ff"/>
<ellipse cx="880" cy="590" rx="14" ry="24" transform="rotate(0 880 590)" fill="#0033ff"/>
<ellipse cx="925" cy="570" rx="16" ry="19" transform="rotate(0 925 570)" fill="#ff0000"/>
<ellipse cx="850" cy="610" rx="13" ry="11" transform="rotate(0 850 610)" fill="#ff9900"/>
<ellipse cx="805" cy="625" rx="28" ry="16" transform="rotate(0 805 625)" fill="#ffff00"/>
<ellipse cx="870" cy="500" rx="28" ry="38" transform="rotate(0 870 500)" fill="#1affe5"/>
<ellipse cx="830" cy="645" rx="20" ry="11" transform="rotate(0 830 645)" fill="#004cff"/>
<ellipse cx="760" cy="600" rx="11" ry="9" transform="rotate(0 760 600)" fill="#ff9900"/>
<ellipse cx="940" cy="612" rx="9" ry="8" transform="rotate(0 940 612)" fill="#ff8000"/>
<ellipse cx="690" cy="580" rx="24" ry="8" transform="rotate(-20 690 580)" fill="#000099"/>
<ellipse cx="780" cy="640" rx="25" ry="10" transform="rotate(0 780 640)" fill="#33ffcc"/>
<ellipse cx="870" cy="655" rx="10" ry="7" transform="rotate(0 870 655)" fill="#ff8000"/>
<ellipse cx="1125" cy="530" rx="14" ry="7" transform="rotate(-20 1125 530)" fill="#0000cc"/>
<ellipse cx="430" cy="1600" rx="8" ry="8" transform="rotate(0 430 1600)" fill="#0066ff"/>
<ellipse cx="500" cy="1605" rx="9" ry="9" transform="rotate(0 500 1605)" fill="#0000cc"/>
<ellipse cx="900" cy="1640" rx="16" ry="16" transform="rotate(0 900 1640)" fill="#cc0000"/>
<ellipse cx="870" cy="1650" rx="9" ry="9" transform="rotate(0 870 1650)" fill="#ff4c00"/>
<ellipse cx="1060" cy="2000" rx="11" ry="34" transform="rotate(-30 1060 2000)" fill="#b30000"/>
<ellipse cx="1000" cy="2040" rx="11" ry="28" transform="rotate(-30 1000 2040)" fill="#0000ff"/>
<ellipse cx="1025" cy="1990" rx="28" ry="22" transform="rotate(-30 1025 1990)" fill="#ffff00"/>
<ellipse cx="1050" cy="2050" rx="19" ry="9" transform="rotate(0 1050 2050)" fill="#ff9900"/>
<ellipse cx="940" cy="1985" rx="28" ry="18" transform="rotate(0 940 1985)" fill="#00ffff"/>
<ellipse cx="1120" cy="1960" rx="11" ry="11" transform="rotate(0 1120 1960)" fill="#004cff"/>
<ellipse cx="1090" cy="2030" rx="9" ry="20" transform="rotate(-30 1090 2030)" fill="#000099"/>
<ellipse cx="990" cy="1250" rx="6" ry="12" transform="rotate(0 990 1250)" fill="#0099ff"/>
<polyline points="775,295 810,250 850,205" fill="none" stroke="#0000a6" stroke-width="26" stroke-linejoin="round" stroke-linecap="round"/>
<polyline points="800,225 800,260" fill="none" stroke="#ffb300" stroke-width="10" stroke-linejoin="round" stroke-linecap="round"/>
<polyline points="1040,430 1060,470 1085,510 1110,560" fill="none" stroke="#ff6600" stroke-width="7" stroke-linejoin="round" stroke-linecap="round"/>
<polyline points="1140,545 1160,490" fill="none" stroke="#ffb300" stroke-width="6" stroke-linejoin="round" stroke-linecap="round"/>
<polyline points="1190,470 1200,520 1215,600" fill="none" stroke="#ffbf00" stroke-width="5" stroke-linejoin="round" stroke-linecap="round"/>
<polyline points="780,1645 820,1612 870,1572 890,1505" fill="none" stroke="#ff8000" stroke-width="7" stroke-linejoin="round" stroke-linecap="round"/>
<g stroke="#0b1a0b" stroke-width="4.5" stroke-dasharray="27 20" fill="none" opacity="0.92">
<line x1="510" y1="70" x2="310" y2="2070"/>
<line x1="905" y1="70" x2="725" y2="2070"/>
<line x1="1300" y1="70" x2="1140" y2="2070"/>
<line x1="1695" y1="70" x2="1555" y2="2070"/>
<line x1="2095" y1="70" x2="1965" y2="2070"/>
<line x1="1040" y1="70" x2="2172" y2="166"/>
<line x1="105" y1="580" x2="2172" y2="762"/>
<line x1="105" y1="1180" x2="2172" y2="1360"/>
<line x1="105" y1="1775" x2="2172" y2="1955"/>
</g>
</g>
<line x1="2172" y1="70" x2="2172" y2="2070" stroke="#a8a8a8" stroke-width="3"/>
<line x1="105" y1="70" x2="105" y2="490" stroke="#333" stroke-width="4" stroke-dasharray="40 30" opacity="0.8"/>
<line x1="102" y1="70" x2="2174" y2="70" stroke="#0a0a0a" stroke-width="7"/>
<text x="118" y="316" font-size="210" font-weight="bold" class="sb">(c)</text>
<polyline points="655,600 1120,373 1354,240" fill="none" stroke="#000" stroke-width="8.5" stroke-dasharray="62 16"/>
<polygon points="1213,261 1160,354 1270,354" fill="none" stroke="#000" stroke-width="9" stroke-linejoin="miter"/>
<text x="1276" y="405" font-size="103" font-weight="bold" class="sb">STO4</text>
<text x="1345" y="283" font-size="130" class="gr">β</text>
<text x="516" y="675" font-size="128" class="gr">β</text>
<text x="585" y="640" font-size="70" font-weight="bold" class="gr">’</text>
<line x1="870" y1="1380" x2="1095" y2="1545" stroke="#000" stroke-width="7" stroke-dasharray="70 40"/>
<polygon points="1005,1420 950,1515 1060,1515" fill="none" stroke="#000" stroke-width="9"/>
<text x="620" y="1522" font-size="101" font-weight="bold" class="sb" letter-spacing="3">AVA1</text>
<text transform="translate(774,1392) scale(1.3,1.05)" font-size="118" class="gr">α</text>
<text transform="translate(1112,1602) scale(1.3,1.05)" font-size="118" class="gr">α</text>
<text x="1192" y="1585" font-size="125" font-weight="bold" class="gr">’</text>
<rect x="273" y="1818" width="535" height="42" fill="#fff" stroke="#000" stroke-width="7"/>
<rect x="270" y="1818" width="140" height="42" fill="#000"/>
<rect x="540" y="1818" width="137" height="42" fill="#000"/>
<line x1="273" y1="1815" x2="273" y2="1902" stroke="#000" stroke-width="7"/>
<line x1="540" y1="1815" x2="540" y2="1902" stroke="#000" stroke-width="7"/>
<line x1="805" y1="1815" x2="805" y2="1902" stroke="#000" stroke-width="7"/>
<line x1="410" y1="1860" x2="410" y2="1885" stroke="#000" stroke-width="6"/>
<line x1="675" y1="1860" x2="675" y2="1885" stroke="#000" stroke-width="6"/>
<text x="273" y="2017" font-size="104" font-weight="bold" text-anchor="middle" class="sb">0</text>
<text x="544" y="2017" font-size="104" font-weight="bold" text-anchor="middle" class="sb">10</text>
<text x="801" y="2017" font-size="104" font-weight="bold" text-anchor="middle" class="sb">20</text>
<text x="875" y="1902" font-size="100" font-weight="bold" class="sb">km</text>
<line x1="850" y1="1850" x2="866" y2="1850" stroke="#000" stroke-width="5"/>
<rect x="1142" y="1910" width="1012" height="156" fill="#fff" stroke="#000" stroke-width="6"/>
<text x="1160" y="2020" font-size="121" class="sr">Group 3 - Group 8</text>
<text x="159" y="2205" font-size="108" font-weight="bold" class="sb">−50.8<tspan font-size="50" dy="-43" dx="6">°</tspan></text>
<text x="567" y="2205" font-size="108" font-weight="bold" class="sb">−50.4<tspan font-size="50" dy="-43" dx="6">°</tspan></text>
<text x="974" y="2205" font-size="108" font-weight="bold" class="sb">−50.0<tspan font-size="50" dy="-43" dx="6">°</tspan></text>
<text x="1384" y="2205" font-size="108" font-weight="bold" class="sb">−49.6<tspan font-size="50" dy="-43" dx="6">°</tspan></text>
<text x="1794" y="2205" font-size="108" font-weight="bold" class="sb">−49.2<tspan font-size="50" dy="-43" dx="6">°</tspan></text>
</g>
<g transform="translate(1728.75,20) scale(0.25)">
<defs>
<clipPath id="boxd"><rect x="105" y="70" width="2067" height="2000"/></clipPath>
<clipPath id="datd"><polygon points="105,70 1942,70 2017,500 2057,800 2107,1100 2127,1287 2172,1600 2172,2070 290,2070 247,1780 207,1580 182,1380 172,1080 157,1000 127,720 105,650"/></clipPath>
<linearGradient id="grd" gradientUnits="userSpaceOnUse" x1="105" y1="0" x2="2172" y2="700">
<stop offset="0" stop-color="#66ff99"/>
<stop offset="0.3" stop-color="#7aff85"/>
<stop offset="0.5" stop-color="#a3ff5c"/>
<stop offset="0.7" stop-color="#8aff75"/>
<stop offset="1" stop-color="#5cffa3"/>
</linearGradient>
</defs>
<g clip-path="url(#boxd)">
<g clip-path="url(#datd)">
<rect x="0" y="0" width="2300" height="2100" fill="url(#grd)"/>
<ellipse cx="1130" cy="460" rx="200" ry="110" transform="rotate(-30 1130 460)" fill="#14ffeb" opacity="0.75" filter="url(#blur)"/>
<ellipse cx="1800" cy="150" rx="200" ry="100" transform="rotate(0 1800 150)" fill="#33ffcc" opacity="0.7" filter="url(#blur)"/>
<ellipse cx="1250" cy="700" rx="300" ry="80" transform="rotate(-20 1250 700)" fill="#bfff40" opacity="0.6" filter="url(#blur)"/>
<ellipse cx="1000" cy="1100" rx="100" ry="200" transform="rotate(20 1000 1100)" fill="#c7ff38" opacity="0.6" filter="url(#blur)"/>
<ellipse cx="300" cy="250" rx="200" ry="200" transform="rotate(0 300 250)" fill="#52ffad" opacity="0.7" filter="url(#blur)"/>
<ellipse cx="1200" cy="1500" rx="150" ry="200" transform="rotate(20 1200 1500)" fill="#b3ff4c" opacity="0.5" filter="url(#blur)"/>
<ellipse cx="1500" cy="1750" rx="300" ry="150" transform="rotate(0 1500 1750)" fill="#40ffbf" opacity="0.6" filter="url(#blur)"/>
<ellipse cx="1900" cy="1000" rx="200" ry="300" transform="rotate(0 1900 1000)" fill="#52ffad" opacity="0.6" filter="url(#blur)"/>
<ellipse cx="500" cy="1200" rx="200" ry="200" transform="rotate(0 500 1200)" fill="#99ff66" opacity="0.5" filter="url(#blur)"/>
<ellipse cx="1150" cy="1350" rx="40" ry="120" transform="rotate(10 1150 1350)" fill="#f2ff0d" opacity="0.6" filter="url(#blur)"/>
<ellipse cx="1300" cy="570" rx="30" ry="80" transform="rotate(10 1300 570)" fill="#ffff00" opacity="0.6" filter="url(#blur)"/>
<ellipse cx="1000" cy="1500" rx="80" ry="80" transform="rotate(0 1000 1500)" fill="#66ff99" opacity="0.5" filter="url(#blur)"/>
</g>
<polygon points="250,66 520,66 517,197 503,222 486,180 468,145 416,141 398,162 391,197 398,225 388,267 363,319 328,372 311,389 264,410 189,390 164,420 169,440 214,480 289,515 364,540 439,550 494,545 524,510 556,450 600,385 622,335 682,270 729,234 775,236 795,280 785,330 745,380 705,435 682,485 645,535 615,575 660,585 740,600 800,620 860,640 850,665 780,690 704,740 674,800 639,840 564,848 499,832 464,800 439,765 389,740 314,710 239,695 189,695 114,635 100,630 100,305 136,305 189,315 259,338 320,305 345,260 340,200 300,130" fill="#fff" />
<polygon points="280,1790 400,1810 540,1770 620,1740 680,1690 690,1640 740,1600 790,1630 830,1610 870,1650 910,1700 930,1780 1000,1850 1070,1890 1090,1960 1000,1980 920,2000 900,2075 100,2075 100,1790" fill="#fff" />
<polygon points="187,1330 260,1320 360,1350 480,1400 580,1470 610,1540 590,1600 540,1580 520,1520 450,1470 340,1430 230,1400 187,1380" fill="#fff" />
<polygon points="330,1970 450,1960 465,2000 440,2060 330,2050 320,2010" fill="#70ff8f" />
<polygon points="540,1930 600,1900 800,1895 880,1910 900,1960 880,2000 830,2075 580,2075 545,2000" fill="#75ff8a" />
<polygon points="340,100 400,90 460,130 420,180 360,170" fill="#61ff9e" />
<ellipse cx="200" cy="820" rx="12" ry="14" transform="rotate(0 200 820)" fill="#fff"/>
<ellipse cx="250" cy="880" rx="14" ry="40" transform="rotate(-5 250 880)" fill="#fff"/>
<ellipse cx="265" cy="960" rx="10" ry="30" transform="rotate(-5 265 960)" fill="#fff"/>
<ellipse cx="530" cy="920" rx="10" ry="12" transform="rotate(0 530 920)" fill="#fff"/>
<ellipse cx="690" cy="1060" rx="18" ry="16" transform="rotate(0 690 1060)" fill="#fff"/>
<ellipse cx="1140" cy="860" rx="20" ry="30" transform="rotate(0 1140 860)" fill="#fff"/>
<ellipse cx="1430" cy="800" rx="14" ry="12" transform="rotate(0 1430 800)" fill="#fff"/>
<ellipse cx="1590" cy="990" rx="12" ry="14" transform="rotate(0 1590 990)" fill="#fff"/>
<ellipse cx="1730" cy="1080" rx="16" ry="18" transform="rotate(0 1730 1080)" fill="#fff"/>
<ellipse cx="1790" cy="620" rx="18" ry="35" transform="rotate(10 1790 620)" fill="#fff"/>
<ellipse cx="1880" cy="540" rx="8" ry="14" transform="rotate(0 1880 540)" fill="#fff"/>
<ellipse cx="1960" cy="570" rx="8" ry="12" transform="rotate(0 1960 570)" fill="#fff"/>
<ellipse cx="2010" cy="850" rx="10" ry="14" transform="rotate(0 2010 850)" fill="#fff"/>
<ellipse cx="1770" cy="760" rx="9" ry="12" transform="rotate(0 1770 760)" fill="#fff"/>
<ellipse cx="1400" cy="450" rx="10" ry="30" transform="rotate(10 1400 450)" fill="#fff"/>
<ellipse cx="1210" cy="640" rx="20" ry="18" transform="rotate(0 1210 640)" fill="#fff"/>
<ellipse cx="1000" cy="590" rx="30" ry="14" transform="rotate(-20 1000 590)" fill="#fff"/>
<ellipse cx="1120" cy="530" rx="30" ry="18" transform="rotate(20 1120 530)" fill="#fff"/>
<ellipse cx="1030" cy="430" rx="14" ry="30" transform="rotate(20 1030 430)" fill="#fff"/>
<ellipse cx="800" cy="250" rx="25" ry="35" transform="rotate(30 800 250)" fill="#fff"/>
<ellipse cx="590" cy="170" rx="10" ry="30" transform="rotate(0 590 170)" fill="#fff"/>
<ellipse cx="440" cy="1180" rx="30" ry="12" transform="rotate(0 440 1180)" fill="#fff"/>
<ellipse cx="570" cy="1280" rx="25" ry="25" transform="rotate(0 570 1280)" fill="#fff"/>
<ellipse cx="1500" cy="1180" rx="30" ry="14" transform="rotate(0 1500 1180)" fill="#fff"/>
<ellipse cx="1880" cy="1220" rx="25" ry="20" transform="rotate(0 1880 1220)" fill="#fff"/>
<ellipse cx="1260" cy="1190" rx="12" ry="10" transform="rotate(0 1260 1190)" fill="#fff"/>
<ellipse cx="1680" cy="1210" rx="10" ry="8" transform="rotate(0 1680 1210)" fill="#fff"/>
<ellipse cx="1100" cy="1300" rx="10" ry="25" transform="rotate(10 1100 1300)" fill="#fff"/>
<ellipse cx="1440" cy="1450" rx="40" ry="14" transform="rotate(-20 1440 1450)" fill="#fff"/>
<ellipse cx="1620" cy="1440" rx="35" ry="16" transform="rotate(-20 1620 1440)" fill="#fff"/>
<ellipse cx="1780" cy="1430" rx="20" ry="24" transform="rotate(0 1780 1430)" fill="#fff"/>
<ellipse cx="1900" cy="1230" rx="20" ry="16" transform="rotate(0 1900 1230)" fill="#fff"/>
<ellipse cx="1460" cy="1240" rx="30" ry="10" transform="rotate(20 1460 1240)" fill="#fff"/>
<ellipse cx="1290" cy="1390" rx="8" ry="8" transform="rotate(0 1290 1390)" fill="#fff"/>
<ellipse cx="1230" cy="1490" rx="14" ry="12" transform="rotate(0 1230 1490)" fill="#fff"/>
<ellipse cx="2020" cy="1480" rx="16" ry="22" transform="rotate(0 2020 1480)" fill="#fff"/>
<ellipse cx="1210" cy="1760" rx="10" ry="16" transform="rotate(0 1210 1760)" fill="#fff"/>
<ellipse cx="1760" cy="1700" rx="10" ry="14" transform="rotate(0 1760 1700)" fill="#fff"/>
<ellipse cx="980" cy="1560" rx="20" ry="16" transform="rotate(0 980 1560)" fill="#fff"/>
<ellipse cx="440" cy="1600" rx="22" ry="18" transform="rotate(0 440 1600)" fill="#fff"/>
<ellipse cx="700" cy="2030" rx="14" ry="20" transform="rotate(0 700 2030)" fill="#fff"/>
<ellipse cx="1560" cy="1280" rx="20" ry="12" transform="rotate(0 1560 1280)" fill="#fff"/>
<ellipse cx="400" cy="1180" rx="20" ry="10" transform="rotate(0 400 1180)" fill="#fff"/>
<ellipse cx="1130" cy="1960" rx="10" ry="40" transform="rotate(0 1130 1960)" fill="#fff"/>
<ellipse cx="890" cy="580" rx="8" ry="40" transform="rotate(-10 890 580)" fill="#0000ff"/>
<ellipse cx="930" cy="600" rx="14" ry="10" transform="rotate(0 930 600)" fill="#0033ff"/>
<ellipse cx="1190" cy="460" rx="10" ry="40" transform="rotate(30 1190 460)" fill="#0066ff"/>
<ellipse cx="1280" cy="330" rx="10" ry="14" transform="rotate(0 1280 330)" fill="#004cff"/>
<ellipse cx="860" cy="480" rx="14" ry="10" transform="rotate(0 860 480)" fill="#ffb300"/>
<ellipse cx="810" cy="210" rx="8" ry="16" transform="rotate(0 810 210)" fill="#ffb300"/>
<ellipse cx="1290" cy="580" rx="6" ry="25" transform="rotate(10 1290 580)" fill="#ffbf00"/>
<ellipse cx="1140" cy="1870" rx="10" ry="10" transform="rotate(0 1140 1870)" fill="#0066ff"/>
<ellipse cx="1370" cy="1850" rx="10" ry="8" transform="rotate(0 1370 1850)" fill="#ffb300"/>
<ellipse cx="1060" cy="500" rx="8" ry="10" transform="rotate(0 1060 500)" fill="#000099"/>
<ellipse cx="1100" cy="2030" rx="6" ry="20" transform="rotate(-30 1100 2030)" fill="#000099"/>
<polyline points="1000,1620 1060,1590 1110,1560" fill="none" stroke="#00ffff" stroke-width="8" stroke-linejoin="round" stroke-linecap="round"/>
<polyline points="1060,1330 1100,1300" fill="none" stroke="#00e5ff" stroke-width="6" stroke-linejoin="round" stroke-linecap="round"/>
<g stroke="#0b1a0b" stroke-width="4.5" stroke-dasharray="27 20" fill="none" opacity="0.92">
<line x1="510" y1="70" x2="310" y2="2070"/>
<line x1="905" y1="70" x2="725" y2="2070"/>
<line x1="1300" y1="70" x2="1140" y2="2070"/>
<line x1="1695" y1="70" x2="1555" y2="2070"/>
<line x1="2095" y1="70" x2="1965" y2="2070"/>
<line x1="1040" y1="70" x2="2172" y2="166"/>
<line x1="105" y1="580" x2="2172" y2="762"/>
<line x1="105" y1="1180" x2="2172" y2="1360"/>
<line x1="105" y1="1775" x2="2172" y2="1955"/>
</g>
</g>
<line x1="2172" y1="70" x2="2172" y2="2070" stroke="#a8a8a8" stroke-width="3"/>
<line x1="2172" y1="70" x2="2172" y2="2070" stroke="#111" stroke-width="6"/>
<line x1="105" y1="70" x2="105" y2="490" stroke="#333" stroke-width="4" stroke-dasharray="40 30" opacity="0.8"/>
<line x1="102" y1="70" x2="2174" y2="70" stroke="#0a0a0a" stroke-width="7"/>
<text x="118" y="316" font-size="210" font-weight="bold" class="sb">(d)</text>
<polyline points="655,600 1120,373 1354,240" fill="none" stroke="#000" stroke-width="8.5" stroke-dasharray="62 16"/>
<polygon points="1213,261 1160,354 1270,354" fill="none" stroke="#000" stroke-width="9" stroke-linejoin="miter"/>
<text x="1276" y="405" font-size="103" font-weight="bold" class="sb">STO4</text>
<text x="1345" y="283" font-size="130" class="gr">β</text>
<text x="516" y="675" font-size="128" class="gr">β</text>
<text x="585" y="640" font-size="70" font-weight="bold" class="gr">’</text>
<line x1="870" y1="1380" x2="1095" y2="1545" stroke="#000" stroke-width="7" stroke-dasharray="70 40"/>
<polygon points="1005,1420 950,1515 1060,1515" fill="none" stroke="#000" stroke-width="9"/>
<text x="620" y="1522" font-size="101" font-weight="bold" class="sb" letter-spacing="3">AVA1</text>
<text transform="translate(774,1392) scale(1.3,1.05)" font-size="118" class="gr">α</text>
<text transform="translate(1112,1602) scale(1.3,1.05)" font-size="118" class="gr">α</text>
<text x="1192" y="1585" font-size="125" font-weight="bold" class="gr">’</text>
<rect x="273" y="1818" width="535" height="42" fill="#fff" stroke="#000" stroke-width="7"/>
<rect x="270" y="1818" width="140" height="42" fill="#000"/>
<rect x="540" y="1818" width="137" height="42" fill="#000"/>
<line x1="273" y1="1815" x2="273" y2="1902" stroke="#000" stroke-width="7"/>
<line x1="540" y1="1815" x2="540" y2="1902" stroke="#000" stroke-width="7"/>
<line x1="805" y1="1815" x2="805" y2="1902" stroke="#000" stroke-width="7"/>
<line x1="410" y1="1860" x2="410" y2="1885" stroke="#000" stroke-width="6"/>
<line x1="675" y1="1860" x2="675" y2="1885" stroke="#000" stroke-width="6"/>
<text x="273" y="2017" font-size="104" font-weight="bold" text-anchor="middle" class="sb">0</text>
<text x="544" y="2017" font-size="104" font-weight="bold" text-anchor="middle" class="sb">10</text>
<text x="801" y="2017" font-size="104" font-weight="bold" text-anchor="middle" class="sb">20</text>
<text x="875" y="1902" font-size="100" font-weight="bold" class="sb">km</text>
<line x1="850" y1="1850" x2="866" y2="1850" stroke="#000" stroke-width="5"/>
<rect x="1142" y="1910" width="1012" height="156" fill="#fff" stroke="#000" stroke-width="6"/>
<text x="1160" y="2020" font-size="121" class="sr">Group 4 - Group 8</text>
<text x="159" y="2205" font-size="108" font-weight="bold" class="sb">−50.8<tspan font-size="50" dy="-43" dx="6">°</tspan></text>
<text x="567" y="2205" font-size="108" font-weight="bold" class="sb">−50.4<tspan font-size="50" dy="-43" dx="6">°</tspan></text>
<text x="974" y="2205" font-size="108" font-weight="bold" class="sb">−50.0<tspan font-size="50" dy="-43" dx="6">°</tspan></text>
<text x="1384" y="2205" font-size="108" font-weight="bold" class="sb">−49.6<tspan font-size="50" dy="-43" dx="6">°</tspan></text>
<text x="1794" y="2205" font-size="108" font-weight="bold" class="sb">−49.2<tspan font-size="50" dy="-43" dx="6">°</tspan></text>
</g>
<g transform="translate(66,611.25) scale(0.25)">
<defs>
<clipPath id="boxe"><rect x="105" y="70" width="2067" height="2000"/></clipPath>
<clipPath id="date"><polygon points="105,70 1955,70 2040,700 2135,1287 2172,1500 2172,2070 280,2070 260,1780 230,1580 200,1380 175,1080 150,900 125,750 105,700"/></clipPath>
<linearGradient id="gre" gradientUnits="userSpaceOnUse" x1="105" y1="0" x2="2172" y2="0">
<stop offset="0" stop-color="#75ff8a"/>
<stop offset="1" stop-color="#87ff78"/>
</linearGradient>
</defs>
<g clip-path="url(#boxe)">
<g clip-path="url(#date)">
<rect x="0" y="0" width="2300" height="2100" fill="url(#gre)"/>
<ellipse cx="1000" cy="400" rx="200" ry="150" transform="rotate(0 1000 400)" fill="#5cffa3" opacity="0.6" filter="url(#blur)"/>
<ellipse cx="1050" cy="1400" rx="150" ry="100" transform="rotate(0 1050 1400)" fill="#66ff99" opacity="0.5" filter="url(#blur)"/>
<ellipse cx="1000" cy="620" rx="150" ry="50" transform="rotate(0 1000 620)" fill="#a6ff59" opacity="0.4" filter="url(#blur)"/>
</g>
<polygon points="215,66 345,66 350,130 335,200 320,270 330,330 300,395 240,395 180,385 150,400 140,440 150,480 170,510 200,540 330,570 450,580 520,560 545,510 575,500 590,540 650,590 750,575 850,535 885,590 850,670 740,720 680,780 620,840 540,850 480,820 445,775 399,732 295,704 172,679 100,610 100,280 130,300 200,270 240,200 230,130" fill="#fff" />
<polygon points="250,1810 450,1810 560,1780 650,1740 760,1720 790,1640 860,1580 900,1640 890,1730 940,1800 1000,1860 1080,1880 1100,1940 1050,1980 950,1970 900,1950 900,2075 100,2075 100,1790" fill="#fff" />
<polyline points="180,1320 300,1360 400,1410 500,1440 550,1490 580,1520 570,1580 520,1600" fill="none" stroke="#fff" stroke-width="26" stroke-linejoin="round" stroke-linecap="round"/>
<polyline points="560,520 640,400 700,340 760,290 830,230" fill="none" stroke="#fff" stroke-width="26" stroke-linejoin="round" stroke-linecap="round"/>
<polygon points="270,1985 330,1962 450,1965 482,2000 470,2075 270,2075" fill="#7aff85" />
<polygon points="520,1935 600,1902 800,1897 880,1912 905,1960 905,2075 520,2075" fill="#7aff85" />
<ellipse cx="235" cy="860" rx="13" ry="34" transform="rotate(-15 235 860)" fill="#fff"/>
<ellipse cx="262" cy="960" rx="10" ry="28" transform="rotate(-10 262 960)" fill="#fff"/>
<ellipse cx="590" cy="1045" rx="14" ry="22" transform="rotate(10 590 1045)" fill="#fff"/>
<ellipse cx="532" cy="932" rx="11" ry="10" transform="rotate(0 532 932)" fill="#fff"/>
<ellipse cx="1150" cy="865" rx="19" ry="34" transform="rotate(0 1150 865)" fill="#fff"/>
<ellipse cx="1440" cy="795" rx="9" ry="13" transform="rotate(0 1440 795)" fill="#fff"/>
<ellipse cx="1432" cy="1040" rx="13" ry="22" transform="rotate(-20 1432 1040)" fill="#fff"/>
<ellipse cx="1730" cy="1075" rx="11" ry="13" transform="rotate(0 1730 1075)" fill="#fff"/>
<ellipse cx="1505" cy="1205" rx="9" ry="38" transform="rotate(-25 1505 1205)" fill="#fff"/>
<ellipse cx="1412" cy="455" rx="5" ry="38" transform="rotate(5 1412 455)" fill="#fff"/>
<ellipse cx="1462" cy="520" rx="4" ry="40" transform="rotate(3 1462 520)" fill="#fff"/>
<ellipse cx="600" cy="210" rx="8" ry="26" transform="rotate(10 600 210)" fill="#fff"/>
<ellipse cx="430" cy="1198" rx="26" ry="13" transform="rotate(20 430 1198)" fill="#fff"/>
<ellipse cx="1215" cy="640" rx="17" ry="22" transform="rotate(0 1215 640)" fill="#fff"/>
<ellipse cx="1340" cy="1245" rx="6" ry="28" transform="rotate(-30 1340 1245)" fill="#fff"/>
<ellipse cx="985" cy="330" rx="6" ry="20" transform="rotate(10 985 330)" fill="#fff"/>
<ellipse cx="1410" cy="1330" rx="5" ry="30" transform="rotate(15 1410 1330)" fill="#fff"/>
<ellipse cx="1110" cy="1320" rx="9" ry="28" transform="rotate(0 1110 1320)" fill="#fff"/>
<ellipse cx="1470" cy="1390" rx="5" ry="25" transform="rotate(10 1470 1390)" fill="#fff"/>
<ellipse cx="1340" cy="1440" rx="5" ry="28" transform="rotate(5 1340 1440)" fill="#fff"/>
<ellipse cx="1230" cy="1490" rx="13" ry="13" transform="rotate(0 1230 1490)" fill="#fff"/>
<ellipse cx="350" cy="1520" rx="13" ry="22" transform="rotate(0 350 1520)" fill="#fff"/>
<ellipse cx="970" cy="1550" rx="19" ry="17" transform="rotate(0 970 1550)" fill="#fff"/>
<ellipse cx="790" cy="585" rx="30" ry="22" transform="rotate(-20 790 585)" fill="#fff"/>
<ellipse cx="1210" cy="655" rx="14" ry="20" transform="rotate(0 1210 655)" fill="#fff"/>
<ellipse cx="530" cy="1600" rx="22" ry="12" transform="rotate(0 530 1600)" fill="#fff"/>
<ellipse cx="850" cy="1640" rx="40" ry="40" transform="rotate(0 850 1640)" fill="#fff"/>
<ellipse cx="850" cy="620" rx="10" ry="16" transform="rotate(0 850 620)" fill="#fff200"/>
<ellipse cx="910" cy="590" rx="6" ry="20" transform="rotate(20 910 590)" fill="#0000ff"/>
<ellipse cx="935" cy="580" rx="6" ry="18" transform="rotate(20 935 580)" fill="#ff9900"/>
<ellipse cx="760" cy="640" rx="20" ry="12" transform="rotate(0 760 640)" fill="#1affe5"/>
<ellipse cx="710" cy="615" rx="12" ry="6" transform="rotate(0 710 615)" fill="#000099"/>
<ellipse cx="1060" cy="470" rx="6" ry="20" transform="rotate(-20 1060 470)" fill="#ff9900"/>
<ellipse cx="1075" cy="480" rx="5" ry="14" transform="rotate(-20 1075 480)" fill="#0000ff"/>
<ellipse cx="1120" cy="545" rx="14" ry="6" transform="rotate(-20 1120 545)" fill="#0000cc"/>
<ellipse cx="800" cy="230" rx="5" ry="18" transform="rotate(10 800 230)" fill="#ff9900"/>
<ellipse cx="840" cy="215" rx="5" ry="12" transform="rotate(20 840 215)" fill="#0000ff"/>
<ellipse cx="900" cy="1650" rx="14" ry="14" transform="rotate(0 900 1650)" fill="#ff3300"/>
<ellipse cx="870" cy="1590" rx="8" ry="8" transform="rotate(0 870 1590)" fill="#ff8000"/>
<ellipse cx="1040" cy="1410" rx="10" ry="8" transform="rotate(0 1040 1410)" fill="#ffb300"/>
<ellipse cx="1040" cy="1580" rx="8" ry="6" transform="rotate(0 1040 1580)" fill="#ff6600"/>
<ellipse cx="590" cy="1270" rx="6" ry="10" transform="rotate(0 590 1270)" fill="#000080"/>
<ellipse cx="430" cy="1210" rx="14" ry="10" transform="rotate(0 430 1210)" fill="#000080"/>
<polyline points="150,400 170,450 220,500 330,555 450,575" fill="none" stroke="#1a2a3a" stroke-width="4" stroke-linejoin="round" stroke-dasharray="9 13"/>
<polyline points="180,385 250,400 300,395" fill="none" stroke="#1a2a3a" stroke-width="4" stroke-linejoin="round" stroke-dasharray="9 13"/>
<polyline points="105,640 200,700 330,740 440,780 480,820" fill="none" stroke="#1a2a3a" stroke-width="4" stroke-linejoin="round" stroke-dasharray="9 13"/>
<polyline points="540,850 620,840 650,810" fill="none" stroke="#1a2a3a" stroke-width="4" stroke-linejoin="round" stroke-dasharray="9 13"/>
<polyline points="180,1320 300,1360 400,1410 500,1440 550,1490" fill="none" stroke="#1a2a3a" stroke-width="4" stroke-linejoin="round" stroke-dasharray="9 13"/>
<polyline points="440,1810 560,1780 650,1740 760,1720" fill="none" stroke="#1a2a3a" stroke-width="4" stroke-linejoin="round" stroke-dasharray="9 13"/>
<polyline points="530,1905 700,1895 860,1905" fill="none" stroke="#1a2a3a" stroke-width="4" stroke-linejoin="round" stroke-dasharray="9 13"/>
<g stroke="#0b1a0b" stroke-width="4.5" stroke-dasharray="27 20" fill="none" opacity="0.92">
<line x1="510" y1="70" x2="310" y2="2070"/>
<line x1="905" y1="70" x2="725" y2="2070"/>
<line x1="1300" y1="70" x2="1140" y2="2070"/>
<line x1="1695" y1="70" x2="1555" y2="2070"/>
<line x1="2095" y1="70" x2="1965" y2="2070"/>
<line x1="1040" y1="70" x2="2172" y2="166"/>
<line x1="105" y1="580" x2="2172" y2="762"/>
<line x1="105" y1="1180" x2="2172" y2="1360"/>
<line x1="105" y1="1775" x2="2172" y2="1955"/>
</g>
</g>
<line x1="2172" y1="70" x2="2172" y2="2070" stroke="#a8a8a8" stroke-width="3"/>
<line x1="105" y1="70" x2="105" y2="2070" stroke="#222" stroke-width="4.5"/>
<line x1="102" y1="70" x2="2174" y2="70" stroke="#0a0a0a" stroke-width="7"/>
<text x="118" y="316" font-size="210" font-weight="bold" class="sb">(e)</text>
<polyline points="655,600 1120,373 1354,240" fill="none" stroke="#000" stroke-width="8.5" stroke-dasharray="62 16"/>
<polygon points="1213,261 1160,354 1270,354" fill="none" stroke="#000" stroke-width="9" stroke-linejoin="miter"/>
<text x="1276" y="405" font-size="103" font-weight="bold" class="sb">STO4</text>
<text x="1345" y="283" font-size="130" class="gr">β</text>
<text x="516" y="675" font-size="128" class="gr">β</text>
<text x="585" y="640" font-size="70" font-weight="bold" class="gr">’</text>
<line x1="870" y1="1380" x2="1095" y2="1545" stroke="#000" stroke-width="7" stroke-dasharray="70 40"/>
<polygon points="1005,1420 950,1515 1060,1515" fill="none" stroke="#000" stroke-width="9"/>
<text x="620" y="1522" font-size="101" font-weight="bold" class="sb" letter-spacing="3">AVA1</text>
<text transform="translate(774,1392) scale(1.3,1.05)" font-size="118" class="gr">α</text>
<text transform="translate(1112,1602) scale(1.3,1.05)" font-size="118" class="gr">α</text>
<text x="1192" y="1585" font-size="125" font-weight="bold" class="gr">’</text>
<rect x="273" y="1818" width="535" height="42" fill="#fff" stroke="#000" stroke-width="7"/>
<rect x="270" y="1818" width="140" height="42" fill="#000"/>
<rect x="540" y="1818" width="137" height="42" fill="#000"/>
<line x1="273" y1="1815" x2="273" y2="1902" stroke="#000" stroke-width="7"/>
<line x1="540" y1="1815" x2="540" y2="1902" stroke="#000" stroke-width="7"/>
<line x1="805" y1="1815" x2="805" y2="1902" stroke="#000" stroke-width="7"/>
<line x1="410" y1="1860" x2="410" y2="1885" stroke="#000" stroke-width="6"/>
<line x1="675" y1="1860" x2="675" y2="1885" stroke="#000" stroke-width="6"/>
<text x="273" y="2017" font-size="104" font-weight="bold" text-anchor="middle" class="sb">0</text>
<text x="544" y="2017" font-size="104" font-weight="bold" text-anchor="middle" class="sb">10</text>
<text x="801" y="2017" font-size="104" font-weight="bold" text-anchor="middle" class="sb">20</text>
<text x="875" y="1902" font-size="100" font-weight="bold" class="sb">km</text>
<line x1="850" y1="1850" x2="866" y2="1850" stroke="#000" stroke-width="5"/>
<rect x="1142" y="1910" width="1012" height="156" fill="#fff" stroke="#000" stroke-width="6"/>
<text x="1160" y="2020" font-size="121" class="sr">Group 5 - Group 8</text>
<text x="159" y="2205" font-size="108" font-weight="bold" class="sb">−50.8<tspan font-size="50" dy="-43" dx="6">°</tspan></text>
<text x="567" y="2205" font-size="108" font-weight="bold" class="sb">−50.4<tspan font-size="50" dy="-43" dx="6">°</tspan></text>
<text x="974" y="2205" font-size="108" font-weight="bold" class="sb">−50.0<tspan font-size="50" dy="-43" dx="6">°</tspan></text>
<text x="1384" y="2205" font-size="108" font-weight="bold" class="sb">−49.6<tspan font-size="50" dy="-43" dx="6">°</tspan></text>
<text x="1794" y="2205" font-size="108" font-weight="bold" class="sb">−49.2<tspan font-size="50" dy="-43" dx="6">°</tspan></text>
<text x="-180" y="618" font-size="106" font-weight="bold" class="sb">70.4<tspan font-size="50" dy="-43" dx="6">°</tspan></text>
<text x="-180" y="1218" font-size="106" font-weight="bold" class="sb">70.2<tspan font-size="50" dy="-43" dx="6">°</tspan></text>
<text x="-180" y="1813" font-size="106" font-weight="bold" class="sb">70.0<tspan font-size="50" dy="-43" dx="6">°</tspan></text>
</g>
<g transform="translate(620.25,611.25) scale(0.25)">
<defs>
<clipPath id="boxf"><rect x="105" y="70" width="2067" height="2000"/></clipPath>
<clipPath id="datf"><polygon points="105,70 1950,70 2040,700 2120,1287 2172,1650 2172,2070 290,2070 260,1800 235,1680 210,1480 185,1310 170,1200 150,1000 130,850 110,730 105,700"/></clipPath>
<linearGradient id="grf" gradientUnits="userSpaceOnUse" x1="105" y1="0" x2="2200" y2="350">
<stop offset="0" stop-color="#66ff99"/>
<stop offset="0.25" stop-color="#75ff8a"/>
<stop offset="0.45" stop-color="#94ff6b"/>
<stop offset="0.62" stop-color="#b3ff4c"/>
<stop offset="0.78" stop-color="#d1ff2e"/>
<stop offset="0.9" stop-color="#ebff14"/>
<stop offset="1" stop-color="#fffa00"/>
</linearGradient>
</defs>
<g clip-path="url(#boxf)">
<g clip-path="url(#datf)">
<rect x="0" y="0" width="2300" height="2100" fill="url(#grf)"/>
<ellipse cx="895" cy="545" rx="45" ry="60" transform="rotate(0 895 545)" fill="#14ffeb" opacity="0.8" filter="url(#blur)"/>
<ellipse cx="250" cy="1000" rx="150" ry="300" transform="rotate(0 250 1000)" fill="#61ff9e" opacity="0.5" filter="url(#blur)"/>
</g>
<polygon points="215,66 345,66 350,130 335,200 320,270 330,330 300,395 240,395 180,385 150,400 140,440 150,480 170,510 200,540 330,570 450,580 520,560 545,510 575,500 590,540 650,590 750,575 850,535 885,590 850,670 740,720 680,780 620,840 540,850 480,820 445,775 399,732 295,704 172,679 100,610 100,280 130,300 200,270 240,200 230,130" fill="#fff" />
<polygon points="250,1810 450,1810 560,1780 650,1740 760,1720 790,1640 860,1580 900,1640 890,1730 940,1800 1000,1860 1080,1880 1100,1940 1050,1980 950,1970 900,1950 900,2075 100,2075 100,1790" fill="#fff" />
<polyline points="180,1320 300,1360 400,1410 500,1440 550,1490 580,1520 570,1580 520,1600" fill="none" stroke="#fff" stroke-width="26" stroke-linejoin="round" stroke-linecap="round"/>
<polyline points="560,520 640,400 700,340" fill="none" stroke="#fff" stroke-width="22" stroke-linejoin="round" stroke-linecap="round"/>
<polyline points="750,290 840,215" fill="none" stroke="#fff" stroke-width="34" stroke-linejoin="round" stroke-linecap="round"/>
<polyline points="900,565 1000,592 1100,545 1200,505" fill="none" stroke="#fff" stroke-width="8" stroke-linejoin="round" stroke-linecap="round"/>
<polygon points="270,1985 330,1962 450,1965 482,2000 470,2075 270,2075" fill="#6bff94" />
<polygon points="520,1935 600,1902 800,1897 880,1912 905,1960 905,2075 520,2075" fill="#75ff8a" />
<ellipse cx="235" cy="860" rx="13" ry="34" transform="rotate(-15 235 860)" fill="#fff"/>
<ellipse cx="262" cy="960" rx="10" ry="28" transform="rotate(-10 262 960)" fill="#fff"/>
<ellipse cx="590" cy="1045" rx="14" ry="22" transform="rotate(10 590 1045)" fill="#fff"/>
<ellipse cx="532" cy="932" rx="11" ry="10" transform="rotate(0 532 932)" fill="#fff"/>
<ellipse cx="1150" cy="865" rx="19" ry="34" transform="rotate(0 1150 865)" fill="#fff"/>
<ellipse cx="1440" cy="795" rx="9" ry="13" transform="rotate(0 1440 795)" fill="#fff"/>
<ellipse cx="1432" cy="1040" rx="13" ry="22" transform="rotate(-20 1432 1040)" fill="#fff"/>
<ellipse cx="1730" cy="1075" rx="11" ry="13" transform="rotate(0 1730 1075)" fill="#fff"/>
<ellipse cx="1505" cy="1205" rx="9" ry="38" transform="rotate(-25 1505 1205)" fill="#fff"/>
<ellipse cx="1412" cy="455" rx="5" ry="38" transform="rotate(5 1412 455)" fill="#fff"/>
<ellipse cx="1462" cy="520" rx="4" ry="40" transform="rotate(3 1462 520)" fill="#fff"/>
<ellipse cx="600" cy="210" rx="8" ry="26" transform="rotate(10 600 210)" fill="#fff"/>
<ellipse cx="430" cy="1198" rx="26" ry="13" transform="rotate(20 430 1198)" fill="#fff"/>
<ellipse cx="1215" cy="640" rx="17" ry="22" transform="rotate(0 1215 640)" fill="#fff"/>
<ellipse cx="1340" cy="1245" rx="6" ry="28" transform="rotate(-30 1340 1245)" fill="#fff"/>
<ellipse cx="985" cy="330" rx="6" ry="20" transform="rotate(10 985 330)" fill="#fff"/>
<ellipse cx="1410" cy="1330" rx="5" ry="30" transform="rotate(15 1410 1330)" fill="#fff"/>
<ellipse cx="1110" cy="1320" rx="9" ry="28" transform="rotate(0 1110 1320)" fill="#fff"/>
<ellipse cx="1470" cy="1390" rx="5" ry="25" transform="rotate(10 1470 1390)" fill="#fff"/>
<ellipse cx="1340" cy="1440" rx="5" ry="28" transform="rotate(5 1340 1440)" fill="#fff"/>
<ellipse cx="1230" cy="1490" rx="13" ry="13" transform="rotate(0 1230 1490)" fill="#fff"/>
<ellipse cx="350" cy="1520" rx="13" ry="22" transform="rotate(0 350 1520)" fill="#fff"/>
<ellipse cx="970" cy="1550" rx="19" ry="17" transform="rotate(0 970 1550)" fill="#fff"/>
<ellipse cx="220" cy="800" rx="16" ry="40" transform="rotate(-10 220 800)" fill="#fff"/>
<ellipse cx="250" cy="900" rx="14" ry="60" transform="rotate(-8 250 900)" fill="#fff"/>
<ellipse cx="280" cy="1000" rx="10" ry="30" transform="rotate(-8 280 1000)" fill="#fff"/>
<ellipse cx="600" cy="210" rx="14" ry="30" transform="rotate(10 600 210)" fill="#fff"/>
<ellipse cx="1000" cy="330" rx="8" ry="40" transform="rotate(10 1000 330)" fill="#fff"/>
<ellipse cx="1090" cy="150" rx="6" ry="40" transform="rotate(10 1090 150)" fill="#fff"/>
<ellipse cx="1180" cy="280" rx="8" ry="50" transform="rotate(-20 1180 280)" fill="#fff"/>
<ellipse cx="1220" cy="560" rx="8" ry="60" transform="rotate(15 1220 560)" fill="#fff"/>
<ellipse cx="1280" cy="560" rx="6" ry="40" transform="rotate(10 1280 560)" fill="#fff"/>
<ellipse cx="1100" cy="520" rx="8" ry="40" transform="rotate(-20 1100 520)" fill="#fff"/>
<ellipse cx="1410" cy="470" rx="6" ry="50" transform="rotate(10 1410 470)" fill="#fff"/>
<ellipse cx="1470" cy="520" rx="5" ry="45" transform="rotate(0 1470 520)" fill="#fff"/>
<ellipse cx="1550" cy="770" rx="10" ry="30" transform="rotate(0 1550 770)" fill="#fff"/>
<ellipse cx="1620" cy="720" rx="10" ry="10" transform="rotate(0 1620 720)" fill="#fff"/>
<ellipse cx="1940" cy="700" rx="8" ry="16" transform="rotate(0 1940 700)" fill="#fff"/>
<ellipse cx="1010" cy="870" rx="8" ry="40" transform="rotate(30 1010 870)" fill="#fff"/>
<ellipse cx="1490" cy="1200" rx="10" ry="50" transform="rotate(-30 1490 1200)" fill="#fff"/>
<ellipse cx="1530" cy="1230" rx="8" ry="30" transform="rotate(40 1530 1230)" fill="#fff"/>
<ellipse cx="1330" cy="1250" rx="6" ry="40" transform="rotate(-60 1330 1250)" fill="#fff"/>
<ellipse cx="1830" cy="1185" rx="30" ry="8" transform="rotate(20 1830 1185)" fill="#fff"/>
<ellipse cx="1100" cy="1250" rx="20" ry="10" transform="rotate(0 1100 1250)" fill="#fff"/>
<ellipse cx="950" cy="70" rx="10" ry="30" transform="rotate(0 950 70)" fill="#fff"/>
<ellipse cx="1440" cy="160" rx="6" ry="30" transform="rotate(10 1440 160)" fill="#fff"/>
<ellipse cx="520" cy="930" rx="12" ry="30" transform="rotate(-20 520 930)" fill="#fff"/>
<ellipse cx="1000" cy="1300" rx="6" ry="30" transform="rotate(20 1000 1300)" fill="#fff"/>
<ellipse cx="1250" cy="1380" rx="8" ry="50" transform="rotate(10 1250 1380)" fill="#fff"/>
<ellipse cx="1350" cy="1400" rx="6" ry="60" transform="rotate(15 1350 1400)" fill="#fff"/>
<ellipse cx="1400" cy="1330" rx="6" ry="40" transform="rotate(20 1400 1330)" fill="#fff"/>
<ellipse cx="1870" cy="1500" rx="8" ry="40" transform="rotate(10 1870 1500)" fill="#fff"/>
<ellipse cx="1560" cy="1290" rx="10" ry="30" transform="rotate(20 1560 1290)" fill="#fff"/>
<ellipse cx="1210" cy="1770" rx="20" ry="22" transform="rotate(0 1210 1770)" fill="#fff"/>
<ellipse cx="1650" cy="1820" rx="10" ry="30" transform="rotate(40 1650 1820)" fill="#fff"/>
<ellipse cx="1100" cy="1820" rx="10" ry="30" transform="rotate(0 1100 1820)" fill="#fff"/>
<ellipse cx="1420" cy="1700" rx="8" ry="20" transform="rotate(0 1420 1700)" fill="#fff"/>
<ellipse cx="2050" cy="1350" rx="20" ry="6" transform="rotate(0 2050 1350)" fill="#fff"/>
<ellipse cx="1700" cy="1640" rx="30" ry="6" transform="rotate(-20 1700 1640)" fill="#fff"/>
<ellipse cx="1150" cy="1400" rx="8" ry="40" transform="rotate(20 1150 1400)" fill="#fff"/>
<ellipse cx="430" cy="1200" rx="16" ry="12" transform="rotate(0 430 1200)" fill="#fff"/>
<ellipse cx="1460" cy="1820" rx="30" ry="8" transform="rotate(-10 1460 1820)" fill="#fff"/>
<ellipse cx="1180" cy="1450" rx="6" ry="45" transform="rotate(30 1180 1450)" fill="#fff"/>
<ellipse cx="1300" cy="1480" rx="6" ry="50" transform="rotate(20 1300 1480)" fill="#fff"/>
<ellipse cx="1380" cy="1520" rx="5" ry="40" transform="rotate(-10 1380 1520)" fill="#fff"/>
<ellipse cx="1450" cy="1420" rx="6" ry="50" transform="rotate(25 1450 1420)" fill="#fff"/>
<ellipse cx="1520" cy="1350" rx="18" ry="40" transform="rotate(-25 1520 1350)" fill="#fff"/>
<ellipse cx="1600" cy="1380" rx="6" ry="35" transform="rotate(10 1600 1380)" fill="#fff"/>
<ellipse cx="1250" cy="1300" rx="30" ry="6" transform="rotate(20 1250 1300)" fill="#fff"/>
<ellipse cx="1120" cy="1330" rx="6" ry="35" transform="rotate(35 1120 1330)" fill="#fff"/>
<ellipse cx="1050" cy="1450" rx="6" ry="30" transform="rotate(40 1050 1450)" fill="#fff"/>
<ellipse cx="1700" cy="1500" rx="5" ry="30" transform="rotate(15 1700 1500)" fill="#fff"/>
<ellipse cx="1750" cy="1300" rx="25" ry="5" transform="rotate(15 1750 1300)" fill="#fff"/>
<ellipse cx="1080" cy="560" rx="6" ry="45" transform="rotate(-25 1080 560)" fill="#fff"/>
<ellipse cx="1150" cy="600" rx="6" ry="40" transform="rotate(-20 1150 600)" fill="#fff"/>
<ellipse cx="1300" cy="650" rx="6" ry="35" transform="rotate(10 1300 650)" fill="#fff"/>
<ellipse cx="1000" cy="390" rx="8" ry="35" transform="rotate(-20 1000 390)" fill="#fff"/>
<ellipse cx="1160" cy="350" rx="6" ry="40" transform="rotate(20 1160 350)" fill="#fff"/>
<ellipse cx="330" cy="1100" rx="8" ry="25" transform="rotate(-10 330 1100)" fill="#fff"/>
<ellipse cx="200" cy="1150" rx="8" ry="20" transform="rotate(0 200 1150)" fill="#fff"/>
<ellipse cx="600" cy="1050" rx="14" ry="25" transform="rotate(0 600 1050)" fill="#fff"/>
<ellipse cx="330" cy="850" rx="8" ry="25" transform="rotate(20 330 850)" fill="#fff"/>
<ellipse cx="545" cy="545" rx="20" ry="42" transform="rotate(0 545 545)" fill="#0000a6"/>
<ellipse cx="530" cy="505" rx="13" ry="13" transform="rotate(0 530 505)" fill="#0000cc"/>
<ellipse cx="605" cy="515" rx="13" ry="15" transform="rotate(0 605 515)" fill="#ff3300"/>
<ellipse cx="578" cy="555" rx="10" ry="10" transform="rotate(0 578 555)" fill="#ff6600"/>
<ellipse cx="630" cy="430" rx="14" ry="16" transform="rotate(0 630 430)" fill="#001aff"/>
<ellipse cx="610" cy="490" rx="8" ry="8" transform="rotate(0 610 490)" fill="#ff9900"/>
<ellipse cx="185" cy="320" rx="13" ry="13" transform="rotate(0 185 320)" fill="#990000"/>
<ellipse cx="185" cy="360" rx="10" ry="10" transform="rotate(0 185 360)" fill="#a60000"/>
<ellipse cx="115" cy="495" rx="10" ry="14" transform="rotate(0 115 495)" fill="#000099"/>
<ellipse cx="155" cy="530" rx="12" ry="8" transform="rotate(0 155 530)" fill="#a60000"/>
<ellipse cx="262" cy="630" rx="10" ry="10" transform="rotate(0 262 630)" fill="#990000"/>
<ellipse cx="315" cy="673" rx="10" ry="9" transform="rotate(0 315 673)" fill="#a60000"/>
<ellipse cx="365" cy="730" rx="12" ry="8" transform="rotate(0 365 730)" fill="#000099"/>
<ellipse cx="185" cy="685" rx="14" ry="8" transform="rotate(20 185 685)" fill="#000099"/>
<ellipse cx="630" cy="775" rx="10" ry="10" transform="rotate(0 630 775)" fill="#990000"/>
<ellipse cx="605" cy="850" rx="14" ry="7" transform="rotate(0 605 850)" fill="#000099"/>
<ellipse cx="410" cy="1205" rx="13" ry="15" transform="rotate(0 410 1205)" fill="#0000cc"/>
<ellipse cx="455" cy="1212" rx="9" ry="8" transform="rotate(0 455 1212)" fill="#ff6600"/>
<ellipse cx="715" cy="295" rx="8" ry="12" transform="rotate(0 715 295)" fill="#0000ff"/>
<ellipse cx="700" cy="340" rx="9" ry="8" transform="rotate(0 700 340)" fill="#ff8000"/>
<ellipse cx="395" cy="95" rx="8" ry="8" transform="rotate(0 395 95)" fill="#990000"/>
<ellipse cx="430" cy="125" rx="8" ry="10" transform="rotate(0 430 125)" fill="#004cff"/>
<ellipse cx="200" cy="1320" rx="20" ry="11" transform="rotate(20 200 1320)" fill="#000099"/>
<ellipse cx="370" cy="1397" rx="25" ry="15" transform="rotate(30 370 1397)" fill="#0000a6"/>
<ellipse cx="520" cy="1602" rx="21" ry="15" transform="rotate(0 520 1602)" fill="#000099"/>
<ellipse cx="430" cy="1607" rx="11" ry="11" transform="rotate(0 430 1607)" fill="#004cff"/>
<ellipse cx="940" cy="1575" rx="11" ry="9" transform="rotate(0 940 1575)" fill="#004cff"/>
<ellipse cx="470" cy="2045" rx="14" ry="24" transform="rotate(30 470 2045)" fill="#000099"/>
<ellipse cx="490" cy="1995" rx="10" ry="16" transform="rotate(30 490 1995)" fill="#b30000"/>
<ellipse cx="300" cy="1355" rx="28" ry="7" transform="rotate(20 300 1355)" fill="#ff0000"/>
<ellipse cx="450" cy="1425" rx="28" ry="7" transform="rotate(20 450 1425)" fill="#e50000"/>
<ellipse cx="560" cy="1475" rx="10" ry="20" transform="rotate(-30 560 1475)" fill="#cc0000"/>
<ellipse cx="580" cy="1585" rx="13" ry="8" transform="rotate(0 580 1585)" fill="#ff6600"/>
<ellipse cx="350" cy="1545" rx="7" ry="22" transform="rotate(10 350 1545)" fill="#0000b3"/>
<ellipse cx="372" cy="1525" rx="5" ry="18" transform="rotate(10 372 1525)" fill="#0000ff"/>
<polyline points="700,1605 735,1565 770,1535" fill="none" stroke="#a60000" stroke-width="28" stroke-linejoin="round" stroke-linecap="round"/>
<polyline points="705,1617 720,1600" fill="none" stroke="#0000a6" stroke-width="10" stroke-linejoin="round" stroke-linecap="round"/>
<polyline points="640,1765 680,1725" fill="none" stroke="#ff0000" stroke-width="7" stroke-linejoin="round" stroke-linecap="round"/>
<polyline points="150,405 200,397 280,405" fill="none" stroke="#1affe5" stroke-width="6" stroke-linejoin="round" stroke-linecap="round"/>
<g stroke="#0b1a0b" stroke-width="4.5" stroke-dasharray="27 20" fill="none" opacity="0.92">
<line x1="510" y1="70" x2="310" y2="2070"/>
<line x1="905" y1="70" x2="725" y2="2070"/>
<line x1="1300" y1="70" x2="1140" y2="2070"/>
<line x1="1695" y1="70" x2="1555" y2="2070"/>
<line x1="2095" y1="70" x2="1965" y2="2070"/>
<line x1="1040" y1="70" x2="2172" y2="166"/>
<line x1="105" y1="580" x2="2172" y2="762"/>
<line x1="105" y1="1180" x2="2172" y2="1360"/>
<line x1="105" y1="1775" x2="2172" y2="1955"/>
</g>
</g>
<line x1="2172" y1="70" x2="2172" y2="2070" stroke="#a8a8a8" stroke-width="3"/>
<line x1="105" y1="70" x2="105" y2="2070" stroke="#222" stroke-width="4.5"/>
<line x1="102" y1="70" x2="2174" y2="70" stroke="#0a0a0a" stroke-width="7"/>
<text x="118" y="316" font-size="210" font-weight="bold" class="sb">(f)</text>
<polyline points="655,600 1120,373 1354,240" fill="none" stroke="#000" stroke-width="8.5" stroke-dasharray="62 16"/>
<polygon points="1213,261 1160,354 1270,354" fill="none" stroke="#000" stroke-width="9" stroke-linejoin="miter"/>
<text x="1276" y="405" font-size="103" font-weight="bold" class="sb">STO4</text>
<text x="1345" y="283" font-size="130" class="gr">β</text>
<text x="516" y="675" font-size="128" class="gr">β</text>
<text x="585" y="640" font-size="70" font-weight="bold" class="gr">’</text>
<line x1="870" y1="1380" x2="1095" y2="1545" stroke="#000" stroke-width="7" stroke-dasharray="70 40"/>
<polygon points="1005,1420 950,1515 1060,1515" fill="none" stroke="#000" stroke-width="9"/>
<text x="620" y="1522" font-size="101" font-weight="bold" class="sb" letter-spacing="3">AVA1</text>
<text transform="translate(774,1392) scale(1.3,1.05)" font-size="118" class="gr">α</text>
<text transform="translate(1112,1602) scale(1.3,1.05)" font-size="118" class="gr">α</text>
<text x="1192" y="1585" font-size="125" font-weight="bold" class="gr">’</text>
<rect x="273" y="1818" width="535" height="42" fill="#fff" stroke="#000" stroke-width="7"/>
<rect x="270" y="1818" width="140" height="42" fill="#000"/>
<rect x="540" y="1818" width="137" height="42" fill="#000"/>
<line x1="273" y1="1815" x2="273" y2="1902" stroke="#000" stroke-width="7"/>
<line x1="540" y1="1815" x2="540" y2="1902" stroke="#000" stroke-width="7"/>
<line x1="805" y1="1815" x2="805" y2="1902" stroke="#000" stroke-width="7"/>
<line x1="410" y1="1860" x2="410" y2="1885" stroke="#000" stroke-width="6"/>
<line x1="675" y1="1860" x2="675" y2="1885" stroke="#000" stroke-width="6"/>
<text x="273" y="2017" font-size="104" font-weight="bold" text-anchor="middle" class="sb">0</text>
<text x="544" y="2017" font-size="104" font-weight="bold" text-anchor="middle" class="sb">10</text>
<text x="801" y="2017" font-size="104" font-weight="bold" text-anchor="middle" class="sb">20</text>
<text x="875" y="1902" font-size="100" font-weight="bold" class="sb">km</text>
<line x1="850" y1="1850" x2="866" y2="1850" stroke="#000" stroke-width="5"/>
<rect x="1142" y="1910" width="1012" height="156" fill="#fff" stroke="#000" stroke-width="6"/>
<text x="1160" y="2020" font-size="121" class="sr">Group 6 - Group 8</text>
<text x="159" y="2205" font-size="108" font-weight="bold" class="sb">−50.8<tspan font-size="50" dy="-43" dx="6">°</tspan></text>
<text x="567" y="2205" font-size="108" font-weight="bold" class="sb">−50.4<tspan font-size="50" dy="-43" dx="6">°</tspan></text>
<text x="974" y="2205" font-size="108" font-weight="bold" class="sb">−50.0<tspan font-size="50" dy="-43" dx="6">°</tspan></text>
<text x="1384" y="2205" font-size="108" font-weight="bold" class="sb">−49.6<tspan font-size="50" dy="-43" dx="6">°</tspan></text>
<text x="1794" y="2205" font-size="108" font-weight="bold" class="sb">−49.2<tspan font-size="50" dy="-43" dx="6">°</tspan></text>
</g>
<g transform="translate(1174.5,611.25) scale(0.25)">
<defs>
<clipPath id="boxg"><rect x="105" y="70" width="2067" height="2000"/></clipPath>
<clipPath id="datg"><polygon points="105,70 1955,70 2040,700 2135,1287 2172,1500 2172,2070 300,2070 280,1780 250,1680 210,1380 180,1080 160,900 130,750 105,650"/></clipPath>
<linearGradient id="grg" gradientUnits="userSpaceOnUse" x1="105" y1="0" x2="2172" y2="0">
<stop offset="0" stop-color="#7aff85"/>
<stop offset="1" stop-color="#87ff78"/>
</linearGradient>
</defs>
<g clip-path="url(#boxg)">
<g clip-path="url(#datg)">
<rect x="0" y="0" width="2300" height="2100" fill="url(#grg)"/>
<ellipse cx="1050" cy="350" rx="200" ry="180" transform="rotate(0 1050 350)" fill="#57ffa8" opacity="0.7" filter="url(#blur)"/>
<ellipse cx="1150" cy="560" rx="130" ry="60" transform="rotate(0 1150 560)" fill="#bfff40" opacity="0.5" filter="url(#blur)"/>
<ellipse cx="1050" cy="1400" rx="180" ry="130" transform="rotate(0 1050 1400)" fill="#5cffa3" opacity="0.6" filter="url(#blur)"/>
<ellipse cx="980" cy="2000" rx="60" ry="50" transform="rotate(0 980 2000)" fill="#f2ff0d" opacity="0.8" filter="url(#blur)"/>
</g>
<polygon points="250,66 520,66 517,197 503,222 486,180 468,145 416,141 398,162 391,197 398,225 388,267 363,319 328,372 311,389 264,410 189,390 164,420 169,440 214,480 289,515 364,540 439,550 494,545 524,510 556,450 600,385 622,335 682,270 729,234 775,236 795,280 785,330 745,380 705,435 682,485 645,535 615,575 660,585 740,600 800,620 860,640 850,665 780,690 704,740 674,800 639,840 564,848 499,832 464,800 439,765 389,740 314,710 239,695 189,695 114,635 100,630 100,305 136,305 189,315 259,338 320,305 345,260 340,200 300,130" fill="#fff" />
<polygon points="280,1790 400,1810 540,1770 620,1740 680,1690 690,1640 740,1600 790,1630 830,1610 870,1650 910,1700 930,1780 1000,1850 1070,1890 1090,1960 1000,1980 920,2000 900,2075 100,2075 100,1790" fill="#fff" />
<polygon points="180,1280 300,1300 430,1350 540,1410 620,1470 600,1550 560,1610 500,1620 490,1570 520,1500 450,1450 330,1400 200,1370 180,1340" fill="#fff" />
<polygon points="540,1930 600,1900 800,1895 880,1910 900,1960 880,2000 830,2075 580,2075 545,2000" fill="#80ff80" />
<ellipse cx="235" cy="860" rx="13" ry="34" transform="rotate(-15 235 860)" fill="#fff"/>
<ellipse cx="262" cy="960" rx="10" ry="28" transform="rotate(-10 262 960)" fill="#fff"/>
<ellipse cx="590" cy="1045" rx="14" ry="22" transform="rotate(10 590 1045)" fill="#fff"/>
<ellipse cx="532" cy="932" rx="11" ry="10" transform="rotate(0 532 932)" fill="#fff"/>
<ellipse cx="1150" cy="865" rx="19" ry="34" transform="rotate(0 1150 865)" fill="#fff"/>
<ellipse cx="1440" cy="795" rx="9" ry="13" transform="rotate(0 1440 795)" fill="#fff"/>
<ellipse cx="1432" cy="1040" rx="13" ry="22" transform="rotate(-20 1432 1040)" fill="#fff"/>
<ellipse cx="1730" cy="1075" rx="11" ry="13" transform="rotate(0 1730 1075)" fill="#fff"/>
<ellipse cx="1505" cy="1205" rx="9" ry="38" transform="rotate(-25 1505 1205)" fill="#fff"/>
<ellipse cx="1412" cy="455" rx="5" ry="38" transform="rotate(5 1412 455)" fill="#fff"/>
<ellipse cx="1462" cy="520" rx="4" ry="40" transform="rotate(3 1462 520)" fill="#fff"/>
<ellipse cx="600" cy="210" rx="8" ry="26" transform="rotate(10 600 210)" fill="#fff"/>
<ellipse cx="430" cy="1198" rx="26" ry="13" transform="rotate(20 430 1198)" fill="#fff"/>
<ellipse cx="1215" cy="640" rx="17" ry="22" transform="rotate(0 1215 640)" fill="#fff"/>
<ellipse cx="1340" cy="1245" rx="6" ry="28" transform="rotate(-30 1340 1245)" fill="#fff"/>
<ellipse cx="985" cy="330" rx="6" ry="20" transform="rotate(10 985 330)" fill="#fff"/>
<ellipse cx="1410" cy="1330" rx="5" ry="30" transform="rotate(15 1410 1330)" fill="#fff"/>
<ellipse cx="1110" cy="1320" rx="9" ry="28" transform="rotate(0 1110 1320)" fill="#fff"/>
<ellipse cx="1470" cy="1390" rx="5" ry="25" transform="rotate(10 1470 1390)" fill="#fff"/>
<ellipse cx="1340" cy="1440" rx="5" ry="28" transform="rotate(5 1340 1440)" fill="#fff"/>
<ellipse cx="1230" cy="1490" rx="13" ry="13" transform="rotate(0 1230 1490)" fill="#fff"/>
<ellipse cx="350" cy="1520" rx="13" ry="22" transform="rotate(0 350 1520)" fill="#fff"/>
<ellipse cx="970" cy="1550" rx="19" ry="17" transform="rotate(0 970 1550)" fill="#fff"/>
<ellipse cx="790" cy="570" rx="35" ry="30" transform="rotate(-20 790 570)" fill="#fff"/>
<ellipse cx="1125" cy="545" rx="12" ry="9" transform="rotate(0 1125 545)" fill="#fff"/>
<ellipse cx="240" cy="1640" rx="10" ry="30" transform="rotate(0 240 1640)" fill="#fff"/>
<ellipse cx="850" cy="540" rx="12" ry="30" transform="rotate(10 850 540)" fill="#0000cc"/>
<ellipse cx="830" cy="620" rx="10" ry="20" transform="rotate(0 830 620)" fill="#001aff"/>
<ellipse cx="925" cy="570" rx="22" ry="20" transform="rotate(0 925 570)" fill="#ff8000"/>
<ellipse cx="890" cy="610" rx="12" ry="10" transform="rotate(0 890 610)" fill="#ffb300"/>
<ellipse cx="800" cy="630" rx="30" ry="14" transform="rotate(0 800 630)" fill="#f2ff0d"/>
<ellipse cx="870" cy="500" rx="25" ry="35" transform="rotate(0 870 500)" fill="#0dfff2"/>
<ellipse cx="760" cy="605" rx="11" ry="9" transform="rotate(0 760 605)" fill="#ffe500"/>
<ellipse cx="690" cy="585" rx="20" ry="7" transform="rotate(-20 690 585)" fill="#000099"/>
<ellipse cx="1070" cy="470" rx="6" ry="25" transform="rotate(-20 1070 470)" fill="#0000cc"/>
<ellipse cx="1085" cy="480" rx="5" ry="20" transform="rotate(-20 1085 480)" fill="#ff8000"/>
<ellipse cx="1125" cy="540" rx="16" ry="7" transform="rotate(-20 1125 540)" fill="#0000bf"/>
<ellipse cx="1150" cy="530" rx="8" ry="6" transform="rotate(0 1150 530)" fill="#ff4c00"/>
<ellipse cx="800" cy="235" rx="6" ry="22" transform="rotate(10 800 235)" fill="#ff8000"/>
<ellipse cx="835" cy="225" rx="5" ry="14" transform="rotate(20 835 225)" fill="#ff6600"/>
<ellipse cx="800" cy="285" rx="10" ry="8" transform="rotate(0 800 285)" fill="#000099"/>
<ellipse cx="405" cy="1195" rx="8" ry="10" transform="rotate(0 405 1195)" fill="#000099"/>
<ellipse cx="460" cy="1215" rx="12" ry="6" transform="rotate(0 460 1215)" fill="#ff9900"/>
<ellipse cx="900" cy="1650" rx="14" ry="14" transform="rotate(0 900 1650)" fill="#e50000"/>
<ellipse cx="880" cy="1590" rx="8" ry="8" transform="rotate(0 880 1590)" fill="#ff8000"/>
<ellipse cx="430" cy="1605" rx="7" ry="7" transform="rotate(0 430 1605)" fill="#0080ff"/>
<ellipse cx="1090" cy="2040" rx="14" ry="30" transform="rotate(-30 1090 2040)" fill="#00008c"/>
<ellipse cx="1060" cy="1990" rx="10" ry="20" transform="rotate(-30 1060 1990)" fill="#0000cc"/>
<ellipse cx="1020" cy="2060" rx="16" ry="6" transform="rotate(0 1020 2060)" fill="#ff8000"/>
<ellipse cx="950" cy="1960" rx="20" ry="6" transform="rotate(0 950 1960)" fill="#0000cc"/>
<ellipse cx="350" cy="1520" rx="8" ry="16" transform="rotate(0 350 1520)" fill="#00e5ff"/>
<polyline points="1165,460 1185,500 1200,540" fill="none" stroke="#ffcc00" stroke-width="8" stroke-linejoin="round" stroke-linecap="round"/>
<g stroke="#0b1a0b" stroke-width="4.5" stroke-dasharray="27 20" fill="none" opacity="0.92">
<line x1="510" y1="70" x2="310" y2="2070"/>
<line x1="905" y1="70" x2="725" y2="2070"/>
<line x1="1300" y1="70" x2="1140" y2="2070"/>
<line x1="1695" y1="70" x2="1555" y2="2070"/>
<line x1="2095" y1="70" x2="1965" y2="2070"/>
<line x1="1040" y1="70" x2="2172" y2="166"/>
<line x1="105" y1="580" x2="2172" y2="762"/>
<line x1="105" y1="1180" x2="2172" y2="1360"/>
<line x1="105" y1="1775" x2="2172" y2="1955"/>
</g>
</g>
<line x1="2172" y1="70" x2="2172" y2="2070" stroke="#a8a8a8" stroke-width="3"/>
<line x1="105" y1="70" x2="105" y2="490" stroke="#333" stroke-width="4" stroke-dasharray="40 30" opacity="0.8"/>
<line x1="102" y1="70" x2="2174" y2="70" stroke="#0a0a0a" stroke-width="7"/>
<text x="118" y="316" font-size="210" font-weight="bold" class="sb">(g)</text>
<polyline points="655,600 1120,373 1354,240" fill="none" stroke="#000" stroke-width="8.5" stroke-dasharray="62 16"/>
<polygon points="1213,261 1160,354 1270,354" fill="none" stroke="#000" stroke-width="9" stroke-linejoin="miter"/>
<text x="1276" y="405" font-size="103" font-weight="bold" class="sb">STO4</text>
<text x="1345" y="283" font-size="130" class="gr">β</text>
<text x="516" y="675" font-size="128" class="gr">β</text>
<text x="585" y="640" font-size="70" font-weight="bold" class="gr">’</text>
<line x1="870" y1="1380" x2="1095" y2="1545" stroke="#000" stroke-width="7" stroke-dasharray="70 40"/>
<polygon points="1005,1420 950,1515 1060,1515" fill="none" stroke="#000" stroke-width="9"/>
<text x="620" y="1522" font-size="101" font-weight="bold" class="sb" letter-spacing="3">AVA1</text>
<text transform="translate(774,1392) scale(1.3,1.05)" font-size="118" class="gr">α</text>
<text transform="translate(1112,1602) scale(1.3,1.05)" font-size="118" class="gr">α</text>
<text x="1192" y="1585" font-size="125" font-weight="bold" class="gr">’</text>
<rect x="273" y="1818" width="535" height="42" fill="#fff" stroke="#000" stroke-width="7"/>
<rect x="270" y="1818" width="140" height="42" fill="#000"/>
<rect x="540" y="1818" width="137" height="42" fill="#000"/>
<line x1="273" y1="1815" x2="273" y2="1902" stroke="#000" stroke-width="7"/>
<line x1="540" y1="1815" x2="540" y2="1902" stroke="#000" stroke-width="7"/>
<line x1="805" y1="1815" x2="805" y2="1902" stroke="#000" stroke-width="7"/>
<line x1="410" y1="1860" x2="410" y2="1885" stroke="#000" stroke-width="6"/>
<line x1="675" y1="1860" x2="675" y2="1885" stroke="#000" stroke-width="6"/>
<text x="273" y="2017" font-size="104" font-weight="bold" text-anchor="middle" class="sb">0</text>
<text x="544" y="2017" font-size="104" font-weight="bold" text-anchor="middle" class="sb">10</text>
<text x="801" y="2017" font-size="104" font-weight="bold" text-anchor="middle" class="sb">20</text>
<text x="875" y="1902" font-size="100" font-weight="bold" class="sb">km</text>
<line x1="850" y1="1850" x2="866" y2="1850" stroke="#000" stroke-width="5"/>
<rect x="1142" y="1910" width="1012" height="156" fill="#fff" stroke="#000" stroke-width="6"/>
<text x="1160" y="2020" font-size="121" class="sr">Group 7 - Group 8</text>
<text x="159" y="2205" font-size="108" font-weight="bold" class="sb">−50.8<tspan font-size="50" dy="-43" dx="6">°</tspan></text>
<text x="567" y="2205" font-size="108" font-weight="bold" class="sb">−50.4<tspan font-size="50" dy="-43" dx="6">°</tspan></text>
<text x="974" y="2205" font-size="108" font-weight="bold" class="sb">−50.0<tspan font-size="50" dy="-43" dx="6">°</tspan></text>
<text x="1384" y="2205" font-size="108" font-weight="bold" class="sb">−49.6<tspan font-size="50" dy="-43" dx="6">°</tspan></text>
<text x="1794" y="2205" font-size="108" font-weight="bold" class="sb">−49.2<tspan font-size="50" dy="-43" dx="6">°</tspan></text>
</g>
<defs><linearGradient id="cb" x1="0" y1="0" x2="1" y2="0">
<stop offset="0" stop-color="#800000"/>
<stop offset="0.03125" stop-color="#9f0000"/>
<stop offset="0.0625" stop-color="#bf0000"/>
<stop offset="0.09375" stop-color="#df0000"/>
<stop offset="0.125" stop-color="#ff0000"/>
<stop offset="0.15625" stop-color="#ff2000"/>
<stop offset="0.1875" stop-color="#ff4000"/>
<stop offset="0.21875" stop-color="#ff6000"/>
<stop offset="0.25" stop-color="#ff8000"/>
<stop offset="0.28125" stop-color="#ff9f00"/>
<stop offset="0.3125" stop-color="#ffbf00"/>
<stop offset="0.34375" stop-color="#ffdf00"/>
<stop offset="0.375" stop-color="#ffff00"/>
<stop offset="0.40625" stop-color="#dfff20"/>
<stop offset="0.4375" stop-color="#bfff40"/>
<stop offset="0.46875" stop-color="#9fff60"/>
<stop offset="0.5" stop-color="#80ff80"/>
<stop offset="0.53125" stop-color="#60ff9f"/>
<stop offset="0.5625" stop-color="#40ffbf"/>
<stop offset="0.59375" stop-color="#20ffdf"/>
<stop offset="0.625" stop-color="#00ffff"/>
<stop offset="0.65625" stop-color="#00dfff"/>
<stop offset="0.6875" stop-color="#00bfff"/>
<stop offset="0.71875" stop-color="#009fff"/>
<stop offset="0.75" stop-color="#0080ff"/>
<stop offset="0.78125" stop-color="#0060ff"/>
<stop offset="0.8125" stop-color="#0040ff"/>
<stop offset="0.84375" stop-color="#0020ff"/>
<stop offset="0.875" stop-color="#0000ff"/>
<stop offset="0.90625" stop-color="#0000df"/>
<stop offset="0.9375" stop-color="#0000bf"/>
<stop offset="0.96875" stop-color="#00009f"/>
<stop offset="1" stop-color="#000080"/>
</linearGradient></defs>
<rect x="713.75" y="1191.25" width="925" height="36.25" fill="url(#cb)"/>
<polygon points="714.25,1191.25 696.25,1209.38 714.25,1227.5" fill="#800000"/>
<polygon points="1638.25,1191.25 1655.5,1209.38 1638.25,1227.5" fill="#000080"/>
<text x="714.55" y="1263" font-size="30.5" font-weight="bold" text-anchor="middle" class="sb">−200</text>
<text x="830.175" y="1263" font-size="30.5" font-weight="bold" text-anchor="middle" class="sb">−150</text>
<text x="945.8" y="1263" font-size="30.5" font-weight="bold" text-anchor="middle" class="sb">−100</text>
<text x="1061.42" y="1263" font-size="30.5" font-weight="bold" text-anchor="middle" class="sb">−50</text>
<text x="1177.05" y="1263" font-size="30.5" font-weight="bold" text-anchor="middle" class="sb">0</text>
<text x="1292.67" y="1263" font-size="30.5" font-weight="bold" text-anchor="middle" class="sb">50</text>
<text x="1408.3" y="1263" font-size="30.5" font-weight="bold" text-anchor="middle" class="sb">100</text>
<text x="1523.92" y="1263" font-size="30.5" font-weight="bold" text-anchor="middle" class="sb">150</text>
<text x="1639.55" y="1263" font-size="30.5" font-weight="bold" text-anchor="middle" class="sb">200</text>
<text x="1667.5" y="1220" font-size="30.5" font-weight="bold" class="sb">m/y</text>
</svg>
</body></html>
